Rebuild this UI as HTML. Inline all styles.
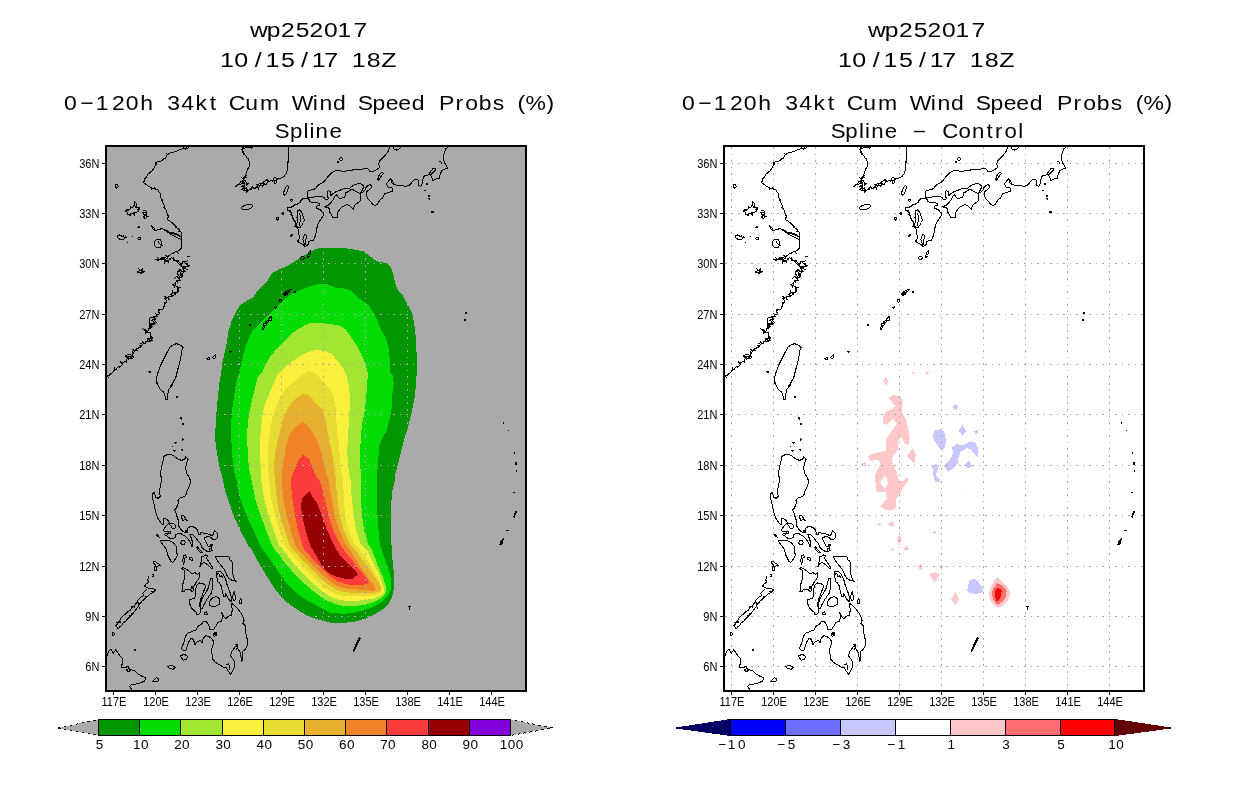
<!DOCTYPE html>
<html lang="en">
<head>
<meta charset="utf-8">
<title>wp252017 0-120h 34kt Cum Wind Speed Probs</title>
<style>
html,body{margin:0;padding:0;background:#fff;}
body{width:1236px;height:800px;overflow:hidden;}
svg{display:block;}
text{font-family:"Liberation Sans",sans-serif;fill:#000;}
</style>
</head>
<body>
<svg width="1236" height="800" viewBox="0 0 1236 800">
<rect x="0" y="0" width="1236" height="800" fill="#ffffff"/>
<clipPath id="cl"><rect x="107" y="147" width="418" height="543"/></clipPath>
<clipPath id="cr"><rect x="725" y="147" width="418" height="543"/></clipPath>
<g clip-path="url(#cl)">
<rect x="106" y="146" width="420" height="545" fill="#aaaaaa"/>
<g shape-rendering="crispEdges">
<polygon fill="#009600" points="221.2,373 222.3,363.3 224.5,353.3 227,341.7 228.7,330 232,320 236.2,311.7 239.5,305.8 245.3,301.7 252.8,297.5 257,291.7 262,286.7 267,281.7 272,273.3 276.2,270.8 283.7,267.5 290.3,264.2 297,260 305.3,255 312,250.8 318.7,248.3 323.7,247.5 332,247.8 345.3,248.3 357,250 364.5,251.7 368.7,255 373.7,259.2 378.7,261.7 387,263.3 391.2,268.3 393.7,275.8 395.3,283.3 397.8,290 402.8,295.8 406.2,301.7 408.7,306.7 412,313.3 414,321.7 415.3,331.7 416.2,343.3 416.7,356.7 416.7,373 416.2,381.7 415,395 412.8,406.7 410.3,418.3 407.8,428.3 404.5,438.3 402,448.3 399.5,458.3 397,468.3 395.3,473.3 395,480 392.5,490 391.5,500 391,515.3 391,530 391.5,545 391.8,550 392.5,560 393.5,570 394,580 393.5,590 392,597 389,603 383,609 375,614 366,618.5 355,621.5 343,623 330,622.5 320,620 310,617 301,612 292,606 283,599 275,589 268,578 262,568 256,558 252,550 248,545 240,530 233.5,515.3 228,500 225,490 223,480 221.2,473.3 218.7,463.3 216.7,451.7 215.3,440 215.3,431.7 216.2,415 217.8,398.3 219.5,381.7"/>
<polygon fill="#00dc00" points="239.5,373 241.2,363.3 243.7,353.3 246.2,345 249.5,336.7 252.8,330 258.7,325 265.3,318.3 272,311.7 278.7,305 285.3,298.3 292,294.2 300.3,290 308.7,286.7 317,284.2 327,284.2 335.3,287.5 343.7,288.3 350.3,290 355.3,295 362,300.8 368.7,305 372.8,311.7 377,320 381.2,330 386.2,338.3 388.3,346.7 389.5,356.7 390.3,373 392.8,375 393.7,383.3 392.3,395 392,406.7 389.5,420 386.2,431.7 382,438.3 379.5,445 378.7,455 377.8,465 377,475 377,480 377,490 377,500 377.5,515.3 378.5,530 380,545 382,550 385,559 388,568 390.5,577 391.5,585 390,592 386,598 380,603 373,607 365,610 355,612.5 343,614 330,612.5 321,608 312,603 303,598 295,592 288,585 281,576 275,567 269,558 263,550 260,545 253.5,530 246.5,515.3 240.5,500 238,490 236.5,480 234.5,473.3 232.8,461.7 231.7,448.3 231.2,435 231.2,421.7 232.3,408.3 234.5,393.3 237,378.3"/>
<polygon fill="#a0e632" points="262,373 265.3,365 270.3,356.7 276.2,349.2 282,343.3 288.7,336.7 295.3,330.8 303.7,325.8 312,322.5 320.3,322.5 328.7,324.2 338.7,325 345.3,329.2 350.3,335.8 355.3,343.3 359.5,350.8 363.7,359.2 366.2,366.7 367.8,373 367.8,375 367,385 366.2,398.3 364.5,411.7 362,425 360.7,438.3 360.3,451.7 360.3,465 361,480 360.5,490 361,500 362,515.3 364,530 368.5,545 372,550 375,558 378,566 382,575 385,583 386.5,590 385,595 380,599 374,602 365,604.7 355,606 345,606.3 337,604.5 329,601.5 321,597 313,591 305,584 298,578 291,570 285,563 280,556 275,550 272,545 266,530 260.5,515.3 255.5,500 253.5,490 251.5,480 249,468.3 247.8,455 247.3,441.7 247.3,430 248.7,416.7 251.2,403.3 254.5,390 257.8,376.7"/>
<polygon fill="#faf03c" points="279.5,373 285.3,366.7 292,361.7 298.7,356.7 307,352.5 315.3,350 323.7,350.8 330.3,353.3 335.3,358.3 340.3,364.2 343.7,369.2 345.3,373 346.2,375 348.7,385 350,398.3 349.5,411.7 348.7,425 347.8,438.3 347.3,451.7 347.8,465 350.5,480 351,490 352,500 353.5,515.3 356,530 361,545 367,550 371,558 375,566 379,574 382,582 384,589 384,593 380,596 374,598.5 365,600 355,601 346,600.8 338,599.5 330,596.5 323,592 315,585 307,578 300,571 294,564 288,556 283,550 279,545 273.5,530 268.5,515.3 264.5,500 262.5,490 261,480 261.2,473.3 260.3,460 260,448.3 260.3,436.7 261.2,425 262.8,413.3 265.3,403.3 269.5,393.3 273.7,383.3 277.8,373.3"/>
<polygon fill="#e6dc32" points="314.5,372.5 320.3,378.3 325.3,384.2 330.3,390 333.7,396.7 335.7,406.7 336.2,418.3 337,430 338.7,441.7 339.5,453.3 340.3,465 342,476.7 343,480 343.5,490 344,500 345,515.3 348.5,530 355,545 360,550 366,558 371,566 375,573 379,580 382,587 382.5,590.5 380,593 374,595 365,596 355,596.5 346,596.3 338,594.7 330,591.5 322,585 314,578 307,571 300,563 294,556 288,550 284.5,545 279.5,530 275,515.3 271.5,500 270,490 269,480 268.7,476.7 267.8,465 267.8,451.7 268.7,440 270.3,428.3 272.8,416.7 276.2,406.7 279.5,398.3 283.7,391.7 288.7,385.8 295.3,380.8 302,375 308.7,371.3"/>
<polygon fill="#e6af2d" points="308.7,395 313.7,400.8 318.7,405.8 322.8,410.8 325.3,418.3 327,428.3 328.7,438.3 331.2,448.3 332.8,458.3 334.5,468.3 336,480 336.5,490 337.5,500 339.5,515.3 343.5,530 350.5,545 355,550 361,558 367,566 372,573 376,579 380,586 381,589.5 379,591.5 373,593 365,593 358,593 351,592.7 343,591.8 335,589 327,583.5 319,577 312,570 305,563 299,556 293,550 289.5,545 284.5,530 280,515.3 277,500 276,490 275,480 274.5,475 274,465 275,453.3 277,443.3 279.5,433.3 282,423.3 284.5,415 287.8,408.3 292,402.5 297,397.5 302.8,394.2"/>
<polygon fill="#f08228" points="307.8,425.8 312,431.7 316.2,438.3 319.5,446.7 322,455 324,465 327,475 329,480 330,490 332,500 334.5,515.3 339,530 346,545 350,550 355,558 360,566 365,573 369,579 373,584 375,588 375,591 371,591 365,589.5 358,589.5 350,589 342,587.8 334,584.5 326,578 318,571 311,564 305,557 298.5,550 295,545 290.5,530 286.5,515.3 283.5,500 282.5,490 282,480 282,475 282.8,465 284.5,455 286.2,445 288.7,436.7 292,430.8 297,425.8 302.8,422.2"/>
<polygon fill="#fa3c3c" points="308.7,458.3 312,466.7 315.3,475 319,480 322.5,490 325,500 328.5,515.3 333,530 340.5,545 344,550 348,555 353,561 358,568 363,574 367,579 369,582.5 363,585 360,585.5 353,585.3 345,584 337,581 330,576.5 323,570 316,563 310,556 304.5,550 302.5,545 298,530 295,515.3 292.5,500 291.5,490 291,480 293.7,471.7 296.2,465 298.7,460 302.8,455"/>
<polygon fill="#960000" points="309.5,491 312,496 317,503 319.5,509 321.5,515.3 327,530 334,545 339,554 344,560 349,565 355,570 358,574.3 352,579.5 344,578.5 337,576.7 331,574.5 326,571 321,564 317,557 313,550 310,545 305.5,530 302,515.3 301,506 302,498.5"/>
</g>
<g stroke="#aaaaaa" stroke-width="1" fill="none" shape-rendering="crispEdges"><g stroke-dasharray="1.7 4.85"><line x1="113.5" y1="147" x2="113.5" y2="690"/><line x1="155.5" y1="147" x2="155.5" y2="690"/><line x1="197.5" y1="147" x2="197.5" y2="690"/><line x1="239.5" y1="147" x2="239.5" y2="690"/><line x1="281.5" y1="147" x2="281.5" y2="690"/><line x1="323.5" y1="147" x2="323.5" y2="690"/><line x1="365.5" y1="147" x2="365.5" y2="690"/><line x1="407.5" y1="147" x2="407.5" y2="690"/><line x1="449.5" y1="147" x2="449.5" y2="690"/><line x1="491.5" y1="147" x2="491.5" y2="690"/></g><g stroke-dasharray="1.7 4.8"><line x1="107" y1="163.5" x2="525" y2="163.5"/><line x1="107" y1="213.5" x2="525" y2="213.5"/><line x1="107" y1="263.5" x2="525" y2="263.5"/><line x1="107" y1="314.5" x2="525" y2="314.5"/><line x1="107" y1="364.5" x2="525" y2="364.5"/><line x1="107" y1="414.5" x2="525" y2="414.5"/><line x1="107" y1="465.5" x2="525" y2="465.5"/><line x1="107" y1="515.5" x2="525" y2="515.5"/><line x1="107" y1="566.5" x2="525" y2="566.5"/><line x1="107" y1="616.5" x2="525" y2="616.5"/><line x1="107" y1="666.5" x2="525" y2="666.5"/></g></g>
<path fill="none" stroke="#000" stroke-width="1" stroke-linejoin="round" shape-rendering="crispEdges" d="M189.7 146.5 L188.2 147.8 L186.5 148.8 L186.3 147.4 L186.5 148.8 L184.8 148.8 L185.3 149.9 L184.8 148.8 L183.2 147.9 L181.7 149.1 L179.8 149.4 L178.4 150.4 L176.9 151.2 L175.2 151.5 L173.6 152.2 L171.8 152.2 L170.2 152.9 L168.7 153.9 L167.3 154.8 L166.8 153.9 L167.3 154.8 L165.9 156.9 L165.1 158.4 L163.6 159.3 L163.7 158.1 L163.6 159.3 L161.8 160.5 L159.8 161.4 L157.1 161.8 L156.4 163.2 L155 162.7 L155 163.4 L156.4 163.2 L155.9 164.5 L157 164.3 L155.9 164.5 L154.7 166.4 L153.8 168.3 L153 169.6 L152.1 170.9 L150.9 171.9 L150 171.7 L149.7 172.6 L150.9 171.9 L149.9 173 L148.5 173.8 L147.3 174.8 L146.8 176.4 L146 177.7 L144.7 178.8 L144.5 180.7 L143.6 182.2 L144.6 183.5 L146.1 184.4 L147.3 185.4 L148.4 186.6 L149.9 187.1 L151.9 188.1 L151.5 189.7 L151.5 189.5 L151.9 188.1 L154.1 188.5 L156 189.5 L155.5 188.2 L154.5 187.9 L156 189.5 L158.3 190.1 L159 192 L160.3 193.5 L160.6 195.2 L160.7 196.9 L161.3 198.5 L162.3 200 L161.2 200.5 L162.3 200 L162.7 201.7 L163.1 203.5 L163.9 205 L164.5 206.7 L165.3 208.3 L163.7 207.8 L163 207.9 L165.3 208.3 L166.2 210.3 L166.9 212.3 L167.4 214.4 L168.5 216.3 L167.8 217.9 L167.8 219.6 L168.8 220.7 L170.3 221.2 L171.8 222.5 L173.3 223.8 L174.8 225.2 L176.2 226.7 L175.8 227.9 L176.2 226.7 L177.4 228.4 L179.2 229.3 L180 231.1 L178.5 231.3 L180 231.1 L181.3 232.6 L181.2 234.2 L181.3 235.9 L181.7 237.5 L181.2 239.1 L181.7 240.7 L181.6 242.4 L181 244 L181.2 246 L181.6 248M181.6 248 L180.1 249.5 L178.6 250.8 L176.9 251.7 L178.6 253.9 L178.5 253.7 L176.9 251.7 L175.1 252 L173.5 253 L171.7 253.5 L170.2 254.9 L168.3 255.9 L167.7 257.3 L165.9 255.6 L166.3 255.2 L167.7 257.3 L167 258.4 L164.6 257.6 L162.9 257.7 L162.9 258.7 L164 258.9 L162.9 257.7 L161.2 257.6 L159.8 259.2 L162.2 260.1 L159.8 259.2 L158 260.2 L156.6 259.5 L155.8 259.6 L158 260.2 L159.4 259.6 L157.7 257.6 L159.4 259.6 L160.7 258.7 L161.3 259.5 L160.7 258.7 L162 258.6 L163.4 257.9 L162 258.6 L163.7 259.8 L164.6 261.5 L164.6 263.9 L164.4 263.3 L164.6 261.5 L166.5 261 L165.4 259.7 L164.4 258.7 L166.5 261 L168.6 260.2 L169 262.6 L168.6 260.2 L170 258.7 L170.4 259.7 L169.9 259.3 L170 258.7 L171.9 257.7 L173.5 259 L173.8 257 L173.5 259 L175.1 260.2 L173.2 260.9 L175.1 260.2 L176.3 261.2 L178.3 260.3 L176.3 261.2 L177.6 262.1 L178.3 263.5 L180 264.7 L180 263.7 L180 264.7 L181.5 266.1 L183.5 266.8 L185.2 266.5 L183.5 266.8 L184.8 268.4 L186.5 269.2 L188.1 270M150.7 224.5 L152.4 226.9 L153.2 229.4 L155.6 230.5 L158.9 229.4 L161.8 228.7 L166.2 230.2 L170.2 232.6 L175.1 234.2 L178.4 235.9 L181.3 236.7M163.7 229.4 L167 231.8 L171.9 235 L176.7 237.5 L181.3 239.4M171.9 232.6 L175.9 233.4 L180 235.9M150.7 224.5 L154 227.7 L154.8 230.2M162 243.5 L161.4 245.8 L160 247.4 L158.1 248 L156.1 247.4 L154.7 245.8 L154.2 243.5 L154.7 241.2 L156.1 239.6 L158.1 238.9 L160 239.6 L161.4 241.2 L162 243.5M158.1 241.5 L159.7 244 L162.1 245.6 L160.5 246.4M118.1 186.3 L117.7 187.6 L116.6 188.1 L115.6 187.6 L115.2 186.3 L115.6 185 L116.6 184.5 L117.7 185 L118.1 186.3M124.7 211.5 L126.3 210.6 L128.2 210.2 L126.8 209.3 L128.2 210.2 L129.7 209.2 L131 207.9 L130.6 207 L130.4 207.5 L131 207.9 L132.4 207.3 L133.6 206.3 L133.1 205.5 L133.6 206.3 L134.3 204.9 L135.1 202.3 L134.6 201.1 L135.1 202.3 L136.3 203.6 L136.4 205.1 L136.3 206.6 L135.2 207.2 L136.3 206.6 L136.4 208 L137.7 207.9 L136.4 208 L137.6 207.3 L138.6 209.4 L137.6 207.3 L139.4 207.4 L139.3 209.1 L138.7 210.8 L138.3 210 L137.7 209 L138.7 210.8 L137.1 211.9 L135.4 212.6 L133.7 212.8 L134.4 214.6 L134.2 215.8 L133.7 212.8 L132.3 213.5 L130.5 214 L129.6 215.1 L130.4 215.8 L130.3 214.7 L129.6 215.1 L127.3 214.7 L127.9 212.3 L127.3 213.4 L127.6 212.5 L127.9 212.3 L126.4 211.8 L124.7 211.5M142.6 211.5 L143.8 210.7 L145 210 L144.9 210.9 L145 210 L145.9 211.1 L147 212.3 L145.5 212.6 L144.8 212.8 L147 212.3 L146.1 213.7 L144.7 214.8 L146.1 215.8 L146 214.1 L146.1 215.8 L147.1 216.4 L148.3 216.3 L147.1 216.4 L146.6 217.5 L145.9 218.4 L143.4 217.7 L144.5 216.7 L143.4 217.2 L143.4 217.7 L144.1 216.3 L144.1 214.7 L145.3 214.9 L144.7 214.6 L144.1 214.7 L143.3 213.1 L142.6 211.5M117.4 235.9 L119.9 234.8 L121.4 236 L123.2 236.4 L123.8 235.5 L122.8 236.4 L123.2 236.4 L124.7 237.3 L125.5 236.8 L124.7 237.3 L126.8 237.4 L124.9 238 L125.1 236.8 L124.9 238 L124 239.3 L121.9 239.3 L119.9 239.4 L117.8 237.9 L117.4 235.9M140.8 238.6 L140.4 239.4 L139.4 239.8 L138.3 239.4 L137.9 238.6 L138.3 237.8 L139.4 237.5 L140.4 237.8 L140.8 238.6M132.2 236.7 L133.5 237.5M127.2 242 L128.3 243M137.4 227.4 L139.7 227.4 L138.6 226.1 L137.4 227.4M186.5 256.2 L189.7 256.2 L188.9 257.3M243.3 146.5 L242.8 148.2 L241.9 149.7 L242.8 151.4 L242.4 152.2 L243.6 152.2 L242.8 151.4 L243.9 153.2 L244.8 154.7 L243.1 154.8 L244.8 154.7 L246.2 156 L246.9 157.9 L248.6 159.2 L249.1 161.1 L249.5 162.9 L249.6 164.4 L249.9 165.9 L248.5 167.3 L247.8 169.4 L247.1 168.5 L247.8 169.4 L247.1 170.9 L246.5 172.5 L245.9 174.6 L246.6 175.6 L245.9 174.6 L244.8 176.5 L246.3 177.9 L247.1 178.1 L244.8 176.5 L244.4 178.3 L242.4 178.7 L244.4 178.3 L243.4 179.9 L243 178.7 L243.2 177.6 L243.4 179.9 L242.1 180.7 L240.9 181.7 L240.1 183.1M240.1 183.1 L239 184.1 L240.7 184.6 L240.8 184.1 L239 184.1 L237.3 185 L236.5 186.8 L235.5 186.2 L237.3 185 L239.4 184.7 L241 184.2 L242.8 182.9 L244.7 184.2 L242.8 182.9 L244.9 182.7 L245 184.1 L244.1 184.8 L244.6 184.3 L245 184.1 L244.2 185.6 L242.4 185.4 L241.9 186.2 L244.2 185.6 L244.6 187.3 L242.6 186.2 L244.6 187.3 L242.8 188.2 L244.6 189.6 L245 189 L242.8 188.2 L241.8 189.4 L244.1 188.6 L246.4 188.3 L246.5 187.3 L246.4 188.3 L246.2 190 L243.4 190.1 L243.9 191.1 L246.2 190 L246.3 192.3 L248 191.2 L247.5 189.8 L248 191.2 L249.1 190.1 L250 189 L251.1 189.8 L251.3 188.9 L250 189 L251.5 188 L251.5 189.8 L251 188.9 L251.5 188 L253 187.6 L252.4 186.4 L253 187.6 L254.7 188.8 L255.6 187.6 L256.4 186.4 L256.1 187.3 L256.4 186.4 L258.8 187.6 L259 189 L258.9 189.3 L258.8 187.6 L259.5 185.9 L258.3 185.6 L257.6 185 L259.5 185.9 L260.5 185 L260.6 186 L260.5 185 L261.7 185.4 L262.9 186.4 L263.9 184.8 L263.4 183.8 L263.9 184.8 L264.5 183.5 L263.8 184.8 L264.5 183.5 L266.1 185 L267 183.1 L267.6 181.3 L269.5 181.5 L267 179.8 L269.5 181.5 L270.9 180.3 L272.6 180.4 L272.8 181.6 L272.6 180.4 L274 180.2 L273.8 179.3 L274 180.2 L275 181.3 L274.9 183.3 L276.7 182.6 L276.8 180.7 L277.5 179M277.5 179 L280.7 178.2 L284 176.6 L286.4 173.3 L287.5 169.2 L288 164.4 L287.2 161.1 L288.8 162.7 L288 157.9 L288 154.6 L288 146.5M241.7 149.7 L245 148.1 L248.2 147.3 L251.5 148.1 L253.1 146.5M240.9 177.4 L244.2 179 L242.5 181.4 L245 180.6 L246.6 183.1 L248.2 183.9 L245.8 185.5M256.3 183.9 L258 185.5 L259.6 183.1 L262 183.9 L263.7 181.4 L266.1 180.6 L267.7 179M273.4 178.2 L275.8 177.4 L276.7 179.8 L274.5 180.6M252.8 205.7 L252.3 207 L250.4 208.4 L247.7 209.5 L244.8 209.9 L242.5 209.5 L241.4 208.5 L241.9 207.2 L243.7 205.8 L246.5 204.7 L249.4 204.3 L251.7 204.7 L252.8 205.7M284 195.2 L283.5 192.8 L284.8 189.6 L286.4 186.3 L288 185.8 L288.4 187.9 L287.2 191.2 L285.9 194.4 L284 195.2M278.9 218.8 L278.5 219.8 L277.5 220.3 L276.4 219.8 L276 218.8 L276.4 217.8 L277.5 217.3 L278.5 217.8 L278.9 218.8M282 213.1 L283.2 212.3 L282.7 214.7M292.4 200.4 L291.9 201.3 L291 201.3 L290.5 200.4 L291 199.6 L291.9 199.6 L292.4 200.4M290.5 235.5 L291.8 234.6 L291.4 236.5 L290.5 235.5M188.1 260 L186.6 261.1 L184.6 261.5 L182.9 261.1 L182.2 261 L184.6 261.5 L185.3 263.4 L187.2 263.1 L188 263.4 L185.3 263.4 L186.7 264.6 L187.6 264.3 L187 264.2 L186.7 264.6 L189.3 265.5 L187.8 266.1 L188.2 266.7 L189.3 265.5 L187.1 266.1 L185.7 267.4 L184.2 267.8 L182.4 267 L182.9 267.6 L184.2 267.8 L182.8 268.9 L183.8 270.3 L185 271.5 L183.2 271.3 L181.6 271.9 L180.4 272.3 L178.5 271.2 L179.4 271.8 L180.4 272.3 L181 273.6 L182.9 272.9 L181 273.6 L182.5 274.6 L182 277.4 L180.7 275.7 L180.1 274.5 L182 277.4 L180.1 277.8 L178.3 277.9 L179.3 279 L180.1 280.4 L178.3 280.6 L176.6 280.9 L177.9 282.9 L176.6 280.9 L175.6 282.8 L176.1 285.1 L175.6 282.8 L174.2 284.1 L172 284 L172.9 285 L174.5 283.9 L172.9 285 L174.5 285.7 L174.9 287.5 L174.5 285.7 L176 286 L177.6 286.8 L178.2 288.4 L180.2 287.3 L179.3 287.4 L178.2 288.4 L178.7 290.2 L177.2 288.7 L178.7 290.2 L177.1 291 L178.6 290.8 L179.1 291.9 L177.1 291 L177.1 293.1 L175.6 292.4 L174.8 293.8 L175.3 294.2 L175.6 292.4 L173.5 292.4 L172.1 290.3 L173.5 292.4 L171.9 293.4 L170.4 294.9 L173.1 295.8 L174.8 293.9 L173.1 295.8 L171.1 296.5 L169.3 296.3 L167.9 297.6 L168.7 299.9 L169.6 299.8 L167.9 297.6 L166.3 297.9 L164.6 296.3 L165.8 297.7 L164.8 298.1 L165.8 297.7 L165.8 299.5 L167 298.2 L165.8 299.5 L166.6 300.6 L165.6 299.8 L166.6 300.6 L166.1 302.5 L164.8 304 L164.1 302.6 L164.8 304 L164.1 305.5 L163.7 307.1 L164.7 306.9 L163.7 307.1 L163.1 309 L161.3 309 L159.7 309.7 L158.5 309.1 L159.7 309.7 L158.4 311.3 L159.1 312 L159.4 312.7 L158.4 311.3 L159 312.3 L159.9 313.8 L158.9 312.8 L159.9 313.8 L157.3 314.5 L155.1 313.7 L157.3 314.5 L155.9 316 L158 317 L155.9 316 L153.9 316.8 L155.5 316.5 L153.9 316.8 L154.9 318 L155.3 319.2 L153.9 319.4 L152.2 320.1 L151.1 320.7 L152.2 320.2 L152.2 320.1 L153.5 321.4 L155 322.6 L152.6 323.2 L152.9 324.4 L155 322.6 L152.8 323.3 L150.6 324.1 L148.8 324 L149.6 323 L150.6 324.1 L151.3 325.5 L149.5 325.3 L149 324.9 L151.3 325.5 L152.5 326.7 L150.6 327.1 L151.7 328 L151.1 327 L150.6 327.1 L149.1 328.2 L150 328.6 L149.1 328.2 L148.3 329.9 L147.6 331.8 L146 330.4 L146.1 332.9 L145.3 333.8 L146 330.4 L144.2 330 L142.4 328.8 L144.2 329.8 L145.9 329 L144.2 329.8 L145.2 331.3 L146.7 332.3 L148.3 332.8 L147.4 331.7 L148.3 332.8 L150.1 332.1 L150.2 334.4 L150.8 336.3 L150.3 337.9 L150.8 336.3 L152.7 338 L150.2 338.5 L147.9 339.4 L149.6 340.6 L150.7 340.1 L147.9 339.4 L149.5 340.5 L149.7 341.5 L149.5 340.5 L150.7 341.2 L148.8 341.3 L146.9 341 L148.1 339.7 L146.9 341 L145.2 341.3 L145.6 343.6 L144.1 343.6 L142.4 341.9 L144.1 343.6 L142.4 344.2 L140.5 343.3 L142.4 344.2 L141.8 345.7 L140.7 345.6 L140 345.8 L141.8 345.7 L140.8 346.7 L139.2 345.4 L140.8 346.7 L139.4 347.7 L136.9 348.5 L138 349.2 L136.9 348.5 L135.7 349.9 L137.7 351 L135.7 349.9 L134.7 350.9 L132.9 349.6 L134.7 350.9 L134 352.4 L132.9 353.4 L132.2 351.9 L132.9 353.4 L132.2 356 L133.7 357.2 L132.2 356 L130.5 357.1 L128.4 356.5 L128 357.7 L128.2 357.1 L128.4 356.5 L126.3 355.7 L126.9 357.2 L127.9 358.3 L126.9 359.3 L126.3 360.7 L126.4 362.1 L126.6 360.9 L126.3 360.7 L124.8 361.7 L123 362.2 L122.7 364.2 L120.8 363 L120.8 361.8 L122.7 364.2 L121.1 365.6 L119.9 367.4 L118.2 366 L119.9 367.4 L118.3 366.5 L117 367.8 L116.5 369.5 L114 370.3 L114.2 367.8 L114 370.3 L113 371.8 L111.8 373 L110.4 373.9 L109.2 375.6 L107.4 375.8 L108.5 377.4 L107.4 375.8 L106.9 377.3M149.9 317.7 L154 316.9 L154.8 320.9 L156.4 322.6 L154 325 L151.6 324.2 L149.9 326.6 L149.1 322.6 L149.9 317.7M177.5 271.4 L180 269.7 L183.2 272.2 L182.4 275.4 L179.2 276.2 L177.5 273.8 L177.5 271.4M173.5 279.5 L176.7 276.2 L179.2 278.7M124.7 356.7 L128 354.2 L131.2 355 L132.1 358.3 L128.8 359.1 L126.4 357.5M147.5 338 L150.7 338.8 L152.4 340.4 L149.1 341.2M164.6 260 L167 261.6 L168.6 260M176.7 260 L179.2 262.4 L181.6 264.1 L183.2 262.4M136.9 272.2 L140.2 270.6 L142.6 268.1 L141.8 271.4 L144.6 271.7 L141.8 272.7 L141 273.8 L139.7 272.2 L136.9 273M138.6 268.4 L141 271M176.7 343.7 L180.8 345.3 L183.2 347.7 L181.6 351 L180.8 357.5 L179.2 364 L177.5 370.5 L175.9 377 L173.5 381.9 L170.2 386.7 L174.3 380 L171.9 385.7 L168.6 389.7 L167.8 393.8 L167.3 399.5 L165.7 399.5 L165 396.2 L163.7 392.2 L159.7 388.9 L158.1 384.9 L156.4 380 L157.2 385.1 L156.4 378.6 L158.1 372.1 L160.5 365.6 L163.7 359.1 L167 352.6 L170.2 346.9 L173.5 344.5 L176.7 343.7M148.3 371.5 L150.4 371.1 L150.1 372.4 L148.3 371.5M262.1 328 L263 326.9 L263.4 325 L263.8 323.5 L265.3 323.1 L266 321.6 L267.1 320.9 L268.3 319.4 L269.4 318.3 L270.9 316.8 L271.9 317.1 L271.6 319 L271.3 320.5 L269.4 320.9 L268.3 321.6 L267.1 322.8 L266.4 324.3 L266 325.4 L264.5 325.8 L264.1 327.6 L263.4 329.1 L262.3 329.1 L262.1 328M265.3 323.1 L266.4 322 L265.9 321.1M268.3 321.6 L269.2 319.8M283.6 293.9 L285.1 292 L287 290.9 L289.3 289.8 L291.5 289.2 L290 290.9 L288.1 292.4 L287 294.6 L285.1 295.4 L283.6 293.9M284.4 293.9 L286.3 292.4 L287.4 292.8 L286.3 294.3 L284.4 293.9M279.5 299.9 L281.4 299.5 L281.8 301.8 L280.3 302.5 L279.5 299.9M274.3 307.8 L275.4 308.4 L276.5 306.6M274.7 307.5 L275.5 307.9 L276.4 306.4M206.8 358.3 L209.2 357.5 L210 359.4 L207.9 360.1 L206.8 358.3M212.5 357.2 L215.7 354.2 L214.9 358.3 L213.3 358.3 L212.5 357.2M229.2 351 L231.2 351 L230.4 352.6 L229.2 351M175.9 396.4 L177.5 396.7 L177.1 398 L175.9 396.4M180.3 417.5 L181.9 417.9 L181.4 419.2 L180.3 417.5M181.9 423.2 L183.6 423.5 L183.1 424.8 L181.9 423.2M181.6 438.7 L183.2 439 L182.7 440.3 L181.6 438.7M174.6 442.4 L176.2 442.7 L175.8 444 L174.6 442.4M173.5 450.3 L175.1 450.7 L174.6 452 L173.5 450.3M181.3 449.2 L182.9 449.5 L182.4 450.8 L181.3 449.2M172.3 445.8 L172.8 447.4M163.7 456.4 L162.9 461.2 L161.3 467.7 L160.5 474.2 L161.8 479.9 L160.5 485.6 L159.2 492.1 L160.5 496.2 L158.1 498.3 L155.6 497 L154.3 492.4 L152.4 493.7 L152.7 499.4 L153.5 501.5 L154.5 506 L155.5 511 L156.5 515 L158 518.5 L159.5 521 L161.5 523.5 L163 525 L163.5 521.5 L163.5 518 L165.5 518.5 L167.5 520 L169.5 522.5 L171.5 524 L173.5 523.5 L175.5 525.5 L176 527.5 L174 529 L172 528 L170.5 525.5 L169 523.5 L167 525 L165 527.5 L163.5 529.5 L164.5 532 L166.5 531.5 L168.5 532 L167.5 534.5 L166 533.5 L164.5 534.5 L167.5 536.5 L170 538.5 L173 539 L175.5 537 L176 534.5 L178.5 533.5 L181 533.5 L183 535 L185.5 536.5 L187.5 538.5 L189.5 541 L191 544 L192 546.5 L193 545.5 L192.5 542 L191.5 539 L190.5 536 L189.8 534 L192 534 L194.5 536.5 L197 539.5 L199.5 542.5 L201 545 L202 547.5 L204 549.5 L206.5 551 L209 551.5 L211 551 L212 548 L211 546.5 L209 547 L207.5 545.5 L206.5 542.5 L205 540 L204 538 L206.5 537 L209 536.5 L211 537.5 L213 539.5 L215.5 539.5 L217.5 537.5 L218 535 L216.5 532.5 L214.5 530.5 L213.5 533 L212.5 536 L210.5 535 L208 534 L205.5 533.5 L203 533 L201 532 L200 534.5 L198.5 535 L198 532 L197 529.5 L195 527.5 L192 526.5 L189.5 527 L187.5 528.5 L186.5 531 L185 532.5 L182.5 531 L180.5 529 L179 526.5 L178.2 523 L178.2 520 L177 516.5 L176 513 L174.5 510 L176.5 508 L177.5 505 L178.5 502.5 L177.8 500 L177.5 501 L180 497.8 L183.2 497 L185.7 495.4 L187.3 490.5 L189.7 485.6 L190.5 480.7 L188.9 476.7 L186.5 473.4 L185.7 467.7 L186.5 462.9 L188.1 459.6 L185.7 456.4 L184.9 458.8 L181.6 460.4 L177.5 458.8 L174.3 456.4 L171 454.4 L167 454.7 L163.7 456.4M181 516 L183 515 L184.5 516.5 L185.5 518.5 L187 520.5 L184.5 519.5 L183 521 L182 518.5 L181 516M180.5 543 L182 540 L184 540.5 L185.5 542.5 L184 545 L182 544.5 L180.5 543M160 541 L163 540.5 L166.5 540.5 L170 541 L173.5 543 L176 546 L177 549 L176.5 552 L177.5 555 L176 558 L174.5 560.5 L172.5 562.5 L171 561.5 L169.5 558.5 L168 555.5 L167 552 L166 549 L164 546 L162 543.5 L160 541M196.5 547.5 L197.5 547 L199.5 549.5 L202 552.5 L201 553 L198.5 550.5 L196.5 547.5M156.2 534.5 L157.5 535 L159.2 537.2 L158 536.8 L156.2 534.5M154 561 L156.5 562.5 L159 564 L160.5 565.5 L158 566 L156 567 L156.5 570 L155 571 L154.5 568 L155.5 565 L153.5 563 L154 561M152 574.5 L153.5 574.5 L153.5 576 L152 576M184 555.5 L185.5 555 L186.5 557 L185 558 L184 560 L184.5 562.5 L183.5 564 L182.8 561 L183.2 558 L184 555.5M189 558 L191.5 557.5 L193 559 L192 560.5 L190 559.5 L189 558M201 557 L203.5 556.5 L205.5 555 L207.5 556 L206.5 558 L208 560.5 L210 563.5 L212 566.5 L212.5 569 L211 568 L208.5 565.5 L206 563.5 L203.5 562.5 L201.5 564 L200 566.5 L200.5 563.5 L201.5 560.5 L201 557M168 531.5 L170 531 L170.5 533 L168.5 533.5 L168 531.5M185 530.5 L187 530 L187.5 532 L185.5 532.5 L185 530.5M210 544.5 L212 544 L212.5 545.5 L210.5 546 L210 544.5M209 549 L211 548.5 L212 550.5 L210 551.5 L209 549M149.1 576 L148.5 577.9 L147.4 579.6 L148.3 581 L148.6 582.5 L147.3 583.1 L146.1 583.9 L145.2 584.9 L145.7 586.2 L145.2 584.9 L144.6 586.1 L146.6 587.6 L149.1 588.5 L150.6 588.7 L152 588.8 L153.7 588.9 L155.5 589.7 L153.9 592 L152.8 591 L151.7 591.9 L153.9 592 L152.5 592.7 L151.3 593.4 L149.7 594.4 L148.4 595.7 L146.8 597 L145.6 596.5 L146.8 597 L145.1 598.3 L143.6 599.8 L142 601.1 L141.1 602.4 L140.2 602.6 L140.4 602.6 L141.1 602.4 L140.1 603.6 L139 604.8 L138.4 603.6 L139 604.6 L139 604.8 L138.5 606.4 L139.3 607.7 L139.7 608.1 L138.5 606.4 L137.3 607.5 L136.7 609 L135.3 610.3 L134.3 611.7 L133.4 613.3 L131.9 614.4 L131.6 613.5 L131.9 614.4 L130.6 615.7 L129.5 615.7 L129.3 616.5 L130.6 615.7 L129.4 617.1 L128.4 617 L128.8 618 L129.4 617.1 L128.2 618.4 L126.7 619.6 L125.7 621.2 L124.3 622.1 L123 623.3 L122.1 624.8 L121.1 625.9 L120 627 L119.1 626 L120 627 L118.8 628 L117.2 629 L117 627.3 L116.1 625.9 L115.2 625.6 L116.1 625.9 L116.7 624.4 L117.7 625 L117.7 624.3 L116.7 624.4 L117.4 623.1 L116.5 622.4 L117.4 623.1 L118.4 621.9 L119.7 622.7 L120.4 621.9 L118.4 621.9 L119.4 620.6 L120.5 619.2 L121.3 617.6 L122.8 616.4 L124.1 615 L125.6 613.8 L126.8 612.5 L128.3 611.6 L129.8 610.7 L131.1 609.2 L132.4 607.8 L131.1 607 L132.3 606.1 L132.4 607.8 L133.5 606.2 L134.6 607.2 L133.5 606.2 L134.8 605.1 L135.8 603.7 L137.1 602.5 L138 602.4 L138.2 602.1 L137.1 602.5 L137.7 600.9 L138.5 599.4 L139.5 598.2 L140.7 597.2 L141.1 598.2 L140.7 597.2 L142.1 596.5 L143.6 595.6 L142.8 593.1 L143.9 592 L145.2 590.8 L146.2 589.7 L147.2 588.5M181.5 568.5 L183.5 567.5 L186 569 L189 571 L192 574 L195 572.5 L197.5 574.5 L199.5 572.5 L199.8 577 L198 580 L196 582.5 L194.5 585.5 L193 587.5 L194 590 L192 592 L190.5 590 L188 589 L185.5 589.5 L183.5 592 L182 591.5 L183 588 L182.5 585 L183.5 582 L184.5 578 L184.8 574 L184.5 570.5 L181.5 568.5M191 586.5 L193 586 L193.2 588.2 L191.5 588.5 L191 586.5M196.5 585.5 L199.5 583 L203 583.5 L205.5 585.5 L205 588.5 L203.5 591.5 L202.5 595 L201 598.5 L200 602 L199.8 606 L200.5 609 L200 613 L198.5 615 L196.5 614.5 L196 612 L194 610.5 L192 608.5 L190.5 606 L189.5 603 L189.5 600 L192 599 L194.5 598 L195.8 595 L195.5 591.5 L196 588.5 L196.5 585.5M211 578 L212.5 579 L212.8 583 L212.5 588 L211.5 593 L209.5 595.5 L207.5 598.5 L205.5 602 L203.5 605.5 L202 609 L200.5 608.5 L200.2 605 L201 601.5 L202.5 598 L204.5 594.5 L206.5 591.5 L208 588.5 L209 585 L209.8 581.5 L211 578M209 603 L210.5 600 L213 597.5 L216.5 596.5 L219 598.5 L220 601.5 L219 604.5 L216 606 L212.5 606.5 L210 605.5 L209 603M204 613 L206.5 611.5 L207.5 614 L205 614.5 L204 613M213.5 635 L216 632.5 L216.5 635 L214.5 636.5 L213.5 635M216 572.5 L218 571 L221 572 L223 574 L224.5 577 L226 580.5 L227 584.5 L228.5 588.5 L230 592.5 L231 596 L232 599.5 L231 601.5 L228.5 599 L227 596 L225.5 594 L226 597 L224 596.5 L222.5 593 L222 589.5 L221 585.5 L219.5 583 L217.5 581.5 L217 578 L216 575 L216 572.5M216.5 574.5 L218.5 573.5 L220 575 L219 577 L221.5 576 L223 577.5M232.5 598 L233.5 593 L234.5 591.5 L235 595 L235.5 599.5 L234 600.5 L232.5 598M239 602.5 L240.5 598.5 L241.8 600.5 L241.5 603.5 L239.5 603.5 L239 602.5M215.5 557 L219 556.5 L222.5 557 L226 556.5 L229 557 L230 560 L232 561.5 L232.5 565 L232 569 L232.5 573 L233.5 577 L235 580 L236.5 581.5 L234 580.5 L231.5 580 L229 578.5 L227 575.5 L225.5 572 L224 569 L221.5 566 L219 563 L217 560 L215.5 557M181.3 648.5 L183.7 642.9 L185.3 636.4 L187.8 633.2 L191.8 631.6 L195.9 629.9 L198.3 625.9 L201.5 624.3 L203.1 621.8 L206.4 621.8 L208.8 625.1 L209.6 629.9 L213.7 629.1 L216.1 625.9 L217.7 622.7 L221.7 621 L222.6 615.4 L221.7 612.9 L223.4 616.2 L225.8 618.6 L228.2 616.2 L231.4 615.4 L232.3 609.7 L231.4 603.2 L233.9 604.9 L237.1 608.1 L240.3 612.1 L242.8 616.2 L244.1 620.2 L242.8 623.5 L245.2 625.9 L245.7 632.4 L246.8 637.2 L247.6 642.1 L246.8 646.9 L244.4 650.2 L242 651.8 L242.5 656.6 L242 661.5 L240.8 656.6 L240.3 652.6 L237.9 648.5 L236.3 645.3 L234.7 647.7 L231.4 651.8 L230.6 655.8 L233.1 659.1 L234.7 663.1 L234.7 667.2 L232.3 671.2 L230.6 674.4 L228.2 671.2 L226.6 668 L223.4 667.2 L219.3 664.7 L215.3 662.3 L212.8 659.1 L212 654.2 L211.2 649.4 L212.8 646.1 L214 642.1 L212 638.8 L208.8 636.4 L205.6 635.6 L203.1 638.8 L202.3 642.9 L200.7 640.5 L197.5 641.3 L195 644.5 L193.4 639.6 L191 638 L188.6 642.1 L187 646.9 L186.1 650.2 L183.7 651 L181.3 648.5M226.6 664.7 L228.2 663.9 L229.8 666.3 L229 669.6M235 644.5 L237.1 644 L237.6 646.9 L236 650.2M213.7 633.2 L216.1 632.4 L215.6 634.8 L213.7 633.2M180.5 655.8 L184.5 654.2 L187.8 656.6 L186.1 659.5 L182.9 660.2 L180.5 655.8M167.2 666.3 L171.6 665.5 L175.6 667.2 L173.2 669.3 L169.2 668.3 L167.2 666.3M152.2 681.7 L156.2 677.7 L158.6 678.5 L158.3 680.9 L155.4 681.7 L152.2 681.7M106.9 656.6 L108.5 651.8 L110.9 649.4 L113.3 653.4 L115.8 649.4 L118.2 653.4 L120.6 656.6 L123 659.1 L122.2 663.9 L121.1 667.2 L124.7 668 L127.9 666.3 L130.3 669.6 L134.4 670.4 L137.6 673.6 L141.6 676.1 L145.4 677.7 L144.9 680.9 L140.8 682.8 L136 684.1 L131.9 684.1 L129.5 686.6 L131.9 689.8M126.3 669.6 L128.7 668.8 L130.3 670.9 L127.6 671.5 L126.3 669.6M133.6 649.4 L135.7 649.4 L135.2 650.5 L133.6 649.4M114.1 634 L113.9 635.2 L113.3 635.8 L112.8 635.2 L112.5 634 L112.8 632.7 L113.3 632.2 L113.9 632.7 L114.1 634M342.3 159 L342 159.9 L341 160.3 L340.1 159.9 L339.7 159 L340.1 158.1 L341 157.7 L342 158.1 L342.3 159M337 161.4 L338.6 161.4 L338.6 162.7 L337 162.7 L337 161.4M292.5 200.4 L292 201.3 L291 201.3 L290.5 200.4 L291 199.6 L292 199.6 L292.5 200.4M279 218.8 L278.6 219.7 L277.7 220.1 L276.8 219.7 L276.4 218.8 L276.8 217.9 L277.7 217.5 L278.6 217.9 L279 218.8M281.7 213.9 L283.4 212.3 L283 215.1M389.8 146.5 L389.3 148.1 L388.2 151.4 L385.7 154.6 L382.5 157.9 L380 160.3 L378.4 164.4 L380 166.8 L378.4 168.4 L376 170.1 L372.7 171.7 L369.5 171.7 L368.7 169.2 L366.2 168.4 L361.4 169.2 L356.5 169.6 L351.6 170.1 L346.7 170.9 L342.7 171.7 L340.2 170.5 L335.4 170.9 L332.1 172.5 L329.7 174.9 L327.2 177.4 L325.5 180 L323.5 182 L321.5 183.5 L319 184.5 L317 186.5 L315.5 188.5 L313.5 189.5 L311 190 L308.5 190 L307.5 192 L307.5 195 L307.5 198 L309.5 197.5 L312 198 L314.5 196.5 L317 196 L320 196 L322.5 196.5 L324.5 198 L325.5 200 L327.5 199.5 L329 198 L327.5 197.5 L327 195 L327.5 192 L328.5 190.5 L330 191.5 L330.5 194 L331 195.5 L333 193.5 L335.5 192 L338 191 L340.5 190 L343 189 L346 188.8 L348.5 189 L350.5 187.5 L352 186.5 L354 185 L357 184 L360 183.5 L362.5 184.5 L363.5 186.5 L363 188.5 L362 190.5 L361 192.5 L363 192 L365 190 L366 187.5 L368 185.5 L370 184.5 L371.5 186 L371 188.5 L369 190 L367 191.5 L366.5 194 L367 197 L368.5 199.5 L370.5 201.5 L372.5 204 L375 206 L377 204.5 L378.5 202.5 L379.5 200.5 L381 199 L382 198.5 L384.9 193.6 L389 192.3 L392.2 191.2 L392.2 187.9 L388.2 187.1 L386.5 183.9 L388.2 181.4 L390.6 179 L392.2 180.6 L393.9 183.9 L397.1 185.5 L402 185.8 L406.8 186.3 L410.1 184.7 L412.5 181.4 L415 179 L417.4 179 L419 181.4 L418.2 185.5 L420.7 186.3 L422.3 183.1 L423.1 178.2 L424.7 175.4 L428.8 174.9 L430.4 171.7 L432.8 168.9 L436.1 168.9 L435.3 170.1 L432.8 172.5 L430.4 174.9 L432 178.2 L432.8 180.6 L436.1 179 L439.3 178.2 L440.2 174.1 L441.8 170.9 L444.2 169.2 L447.5 168.4 L446.7 166 L444.5 162.7 L443.4 157.9 L444.2 153 L445.8 148.9 L448.3 146.8M393 146.5 L393.9 148.9 L396.3 150.1 L399.5 148.9 L401.2 146.8M390.6 179 L392.2 183.1 L395.5 185.5M377.6 179.8 L379.2 174.9 L381.7 172.5 L383.3 173.3 L380.9 176.6 L378.4 180.3 L377.6 179.8M439.3 161.1 L441 161.9 L441.8 164.4M324.5 207 L326.5 206 L328.5 205 L330 203.5 L331.5 202 L333 200 L334 198 L335 196 L336.5 195 L338 197 L339.5 198.5 L342 198 L344.5 197 L346 195 L345.5 192.5 L347.5 192 L350 190.5 L351 189 L353.5 190 L356 191.5 L358.5 192.5 L360 193.5 L360 196.5 L361 199.5 L359.5 201.5 L357.5 203 L355.5 204.5 L354 207 L353.5 209.5 L351.5 207.5 L349.5 205.5 L347 204.5 L344.5 205.5 L342 207 L340 209 L338.5 211.5 L337 214 L337.5 217.5 L335 218 L333 217.5 L331.5 215 L330 212.5 L329.5 209.5 L328.5 207.5 L326.5 207 L324.5 207M307.5 198 L305 198.5 L302.5 198.8 L301 200.5 L300 202.5 L298 203.5 L296.5 205 L294.5 204.5 L293.5 206.5 L291.5 207 L289.5 208 L288 207.5 L287 210 L289 210 L290.5 212 L292 214.5 L292.5 217.5 L293.5 220 L295.5 222 L296 224.5 L294.5 226.5 L296.5 227 L298 229 L298.5 232 L299 235 L299.5 238 L298.5 240 L297.5 241 L299 242.5 L301.5 243.5 L303.5 245 L305 246.5 L307 245.5 L308.5 244 L309 241.5 L311 240.5 L313.5 240 L314.5 238 L315.5 235 L316.5 231 L317 227.5 L318 224 L319.5 221 L321.5 218.5 L323 216 L324 213.5 L322 212 L320.5 210 L318.5 209 L316.5 208 L317 206 L319 205.5 L319.5 203.5 L317 202.5 L314.5 203 L312 202.5 L310 201.5 L309 199.5 L307.5 198M297 211 L299.5 210 L301.5 212 L302.5 214.5 L303.5 217.5 L304.5 220 L303.5 222.5 L302 225 L300.5 227 L298.5 228 L297 226.5 L296 224 L297.5 222.5 L298 220 L297 217.5 L297.5 215 L297 211M299 213 L300.5 216 L300 219 L301 221 L299.5 223 L300 225.5M290 210.5 L291.5 213 L291 214.5 L293 216 L292 218 L294 219M304.5 234.5 L306 235 L306.5 237.5 L305.5 240 L306 243 L305 245 L303.5 242.5 L303 239.5 L303.5 237 L304.5 234.5M290.8 234.8 L292.2 234.5 L292 236 L290.8 236.2 L290.8 234.8M307.5 257 L308.2 254 L309.2 251.5 L310.5 250.5 L310.5 253 L309.5 255.5 L308.5 257.5 L307.5 257M304.3 258 L304 258.8 L303.1 259.3 L301.9 259.3 L301 258.8 L300.7 258 L301 257.2 L301.9 256.7 L303.1 256.7 L304 257.2 L304.3 258M426.2 183.5 L427.2 183.7 L427 184.8 L426.2 183.5M424.2 190 L425.2 190.2 L425 191.3 L424.2 190M428.3 195.4 L429.3 195.6 L429.1 196.7 L428.3 195.4M428.8 198.2 L429.8 198.3 L429.6 199.5 L428.8 198.2M431.2 211 L433.8 211 L433.8 212.3 L431.2 212.3 L431.2 211M465 312.5 L467 312.5M465 313.5 L467 313.5M464 319.5 L466 319.5M464 320.5 L466 320.5M503 422.5 L504 422.5M503 423.5 L504 423.5M508 430.5 L509 430.5M514 452.5 L515 452.5M514 453.5 L515 453.5M515 462.5 L517 462.5M515 463.5 L517 463.5M515 464.5 L517 464.5M516 470.5 L517 470.5M516 471.5 L517 471.5M513 492.5 L515 492.5M513.5 517.5 L514.5 514 L516 511M514.3 517.5 L515.3 514 L516.6 511.5M506 530.5 L509 530.5M499.5 545 L501 541.5 L503.5 538M500.4 545.3 L502 541.8 L504 538.8M501.2 545 L502.6 542.5M408 606.5 L410.5 606.5M408.5 607.5 L410 607.5M409 608.5 L409.8 609.5M353 651.5 L355.5 645.5 L359.8 637M353.9 651.5 L356.4 645.8 L360.6 637.6M294 291.5 L296 291.5M294 292.5 L296 292.5M249 324.5 L251 324.5M249 325.5 L251 325.5"/>
</g>
<g clip-path="url(#cr)">
<g shape-rendering="crispEdges">
<polygon fill="#ffc8c8" points="891.7,395.3 900,395.8 902,400 902.5,413.3 906.7,421.7 908.3,430 909.7,438.3 908.3,445 905,443.3 900.8,436.7 898.3,441.7 897.5,450 892.5,456.7 891.7,461.7 895,468.3 897.5,475 899.2,481.7 903.3,480.8 907.5,477.5 907.5,481.7 902.5,488.3 903.3,488.3 900,493.3 895.8,499.2 895.8,507.5 892.5,510.3 885.8,509.7 880,506.7 886.7,498.3 885.8,492.5 876.7,491.7 875.8,486.7 875,475 878.3,468.3 880.8,464.2 878.3,460 870,460.8 867.5,456.7 871.7,454.2 878.3,452.5 885.8,450.8 885.8,440 890,433.3 895,426.7 896.7,423.3 892.5,419.2 886.7,425 883.3,423.3 883.3,416.7 885.8,411.7 891.7,409.2 895.8,406.7 891.7,401.7 889.2,398.3"/>
<polygon fill="#ffffff" points="880,482.5 885,475 888.3,482.5 885,489.2"/>
<polygon fill="#ffc8c8" points="883.3,381.3 885.8,377.2 888.7,381.3 885.8,385.8"/>
<polygon fill="#ffc8c8" points="911.7,372 915,372 913.3,373.8"/>
<polygon fill="#ffc8c8" points="925,372 929.2,372 927.5,375"/>
<polygon fill="#ffc8c8" points="906.3,456.3 913.3,448.3 915.8,455 914.2,463.3"/>
<polygon fill="#ffc8c8" points="860.3,465 864.7,462 866.7,465.3 864.7,466.7"/>
<polygon fill="#c8c8ff" points="934.2,430.8 940,429.2 944.2,431.7 945.8,440 945.3,446.7 942.5,450.8 938.3,446.7 934.2,440 933,435.8"/>
<polygon fill="#c8c8ff" points="958.3,430.8 962.5,425.3 966.2,430.8 962.5,435.8"/>
<polygon fill="#c8c8ff" points="974.2,431.7 976.3,430 978.3,432.2 976.3,434.7"/>
<polygon fill="#c8c8ff" points="952,407 955.3,403.8 958,407 955.3,410"/>
<polygon fill="#c8c8ff" points="951.7,447.5 956.7,444.2 963.3,445 970,441.3 975,442.5 977.5,446.7 977.5,457.5 975,455 970.8,449.2 966.7,448.3 960.8,451.7 958.3,458.3 957.5,464.2 953.3,468.3 948.3,471.7 943.3,465.8 947.5,462.5 951.7,456.7 953,451.7"/>
<polygon fill="#c8c8ff" points="964.2,465.3 969.2,460.8 971.7,465.3 969.2,468.7"/>
<polygon fill="#c8c8ff" points="931.2,465 936.7,464.2 939.2,465.8 936.7,471.7 935.8,475.8 940,480 940,482 935,481.7 933.3,475 933,470"/>
<polygon fill="#c8c8ff" points="961.7,490 963.3,490 963.3,491.3 961.7,491.3"/>
<polygon fill="#ffc8c8" points="876.7,524.5 879.2,522.5 881.7,524.5 879.2,525.8"/>
<polygon fill="#ffc8c8" points="888,524.5 892.5,520.8 894.2,525 892.5,526.7"/>
<polygon fill="#ffc8c8" points="897,539.7 899.2,535 901.7,539.7 899.5,544.7"/>
<polygon fill="#ffc8c8" points="890.8,549.3 892.5,547.5 894.2,549.3 892.5,551"/>
<polygon fill="#ffc8c8" points="903,549.2 906.7,545.8 909.2,549.2 906.3,550.8"/>
<polygon fill="#ffc8c8" points="918.3,566.7 920.5,563.7 922.5,566.7 920.8,570.8"/>
<polygon fill="#ffc8c8" points="940,566.7 941.7,563.7 943,566.7 941.7,570.8"/>
<polygon fill="#ffc8c8" points="929.2,574.2 935,572 940,574.2 937.5,578.3 934.5,582 931.7,578.3"/>
<polygon fill="#ffc8c8" points="951.3,599.2 955.3,592 959.2,599.2 955.3,605.8"/>
<polygon fill="#ffc8c8" points="997.5,577 1001.7,580.8 1006.7,585.8 1010,592.5 1009.2,598.3 1005,604.2 998.3,608 993.3,604.2 989.7,599.2 989.2,593.3 990.8,586.7 994.2,580.8"/>
<polygon fill="#ff6e6e" points="997.5,583.3 1002.5,585.8 1006.7,590.8 1005.8,596.7 1002.5,601.7 997.5,605 993.3,600 991.7,594.2 993,588.3"/>
<polygon fill="#ff0000" points="997.5,587.5 1001.7,590 1001.3,595 999.2,600 996.7,601.7 995,596.7 995,590.8"/>
<polygon fill="#c8c8ff" points="933,532.5 934.5,531 936,532.5 934.5,534"/>
<polygon fill="#c8c8ff" points="970,579.7 975.8,579.2 979.2,583.3 983,588.3 982.5,592.5 976.7,593.7 969.2,593.3 967.2,590.8 968.3,585"/>
<polygon fill="#ffc8c8" points="898,322.5 899.5,320.5 901,322.5 899.5,324.5"/>
</g>
<g stroke="#aaaaaa" stroke-width="1" fill="none" shape-rendering="crispEdges"><g stroke-dasharray="1.7 4.85"><line x1="731.5" y1="147" x2="731.5" y2="690"/><line x1="773.5" y1="147" x2="773.5" y2="690"/><line x1="815.5" y1="147" x2="815.5" y2="690"/><line x1="857.5" y1="147" x2="857.5" y2="690"/><line x1="899.5" y1="147" x2="899.5" y2="690"/><line x1="941.5" y1="147" x2="941.5" y2="690"/><line x1="983.5" y1="147" x2="983.5" y2="690"/><line x1="1025.5" y1="147" x2="1025.5" y2="690"/><line x1="1067.5" y1="147" x2="1067.5" y2="690"/><line x1="1109.5" y1="147" x2="1109.5" y2="690"/></g><g stroke-dasharray="1.7 4.8"><line x1="725" y1="163.5" x2="1143" y2="163.5"/><line x1="725" y1="213.5" x2="1143" y2="213.5"/><line x1="725" y1="263.5" x2="1143" y2="263.5"/><line x1="725" y1="314.5" x2="1143" y2="314.5"/><line x1="725" y1="364.5" x2="1143" y2="364.5"/><line x1="725" y1="414.5" x2="1143" y2="414.5"/><line x1="725" y1="465.5" x2="1143" y2="465.5"/><line x1="725" y1="515.5" x2="1143" y2="515.5"/><line x1="725" y1="566.5" x2="1143" y2="566.5"/><line x1="725" y1="616.5" x2="1143" y2="616.5"/><line x1="725" y1="666.5" x2="1143" y2="666.5"/></g></g>
<path fill="none" stroke="#000" stroke-width="1" stroke-linejoin="round" shape-rendering="crispEdges" d="M807.7 146.5 L806.2 147.8 L804.5 148.8 L804.3 147.4 L804.5 148.8 L802.8 148.8 L803.3 149.9 L802.8 148.8 L801.2 147.9 L799.7 149.1 L797.8 149.4 L796.4 150.4 L794.9 151.2 L793.2 151.5 L791.6 152.2 L789.8 152.2 L788.2 152.9 L786.7 153.9 L785.3 154.8 L784.8 153.9 L785.3 154.8 L783.9 156.9 L783.1 158.4 L781.6 159.3 L781.7 158.1 L781.6 159.3 L779.8 160.5 L777.8 161.4 L775.1 161.8 L774.4 163.2 L773 162.7 L773 163.4 L774.4 163.2 L773.9 164.5 L775 164.3 L773.9 164.5 L772.7 166.4 L771.8 168.3 L771 169.6 L770.1 170.9 L768.9 171.9 L768 171.7 L767.7 172.6 L768.9 171.9 L767.9 173 L766.5 173.8 L765.3 174.8 L764.8 176.4 L764 177.7 L762.7 178.8 L762.5 180.7 L761.6 182.2 L762.6 183.5 L764.1 184.4 L765.3 185.4 L766.4 186.6 L767.9 187.1 L769.9 188.1 L769.5 189.7 L769.5 189.5 L769.9 188.1 L772.1 188.5 L774 189.5 L773.5 188.2 L772.5 187.9 L774 189.5 L776.3 190.1 L777 192 L778.3 193.5 L778.6 195.2 L778.7 196.9 L779.3 198.5 L780.3 200 L779.2 200.5 L780.3 200 L780.7 201.7 L781.1 203.5 L781.9 205 L782.5 206.7 L783.3 208.3 L781.7 207.8 L781 207.9 L783.3 208.3 L784.2 210.3 L784.9 212.3 L785.4 214.4 L786.5 216.3 L785.8 217.9 L785.8 219.6 L786.8 220.7 L788.3 221.2 L789.8 222.5 L791.3 223.8 L792.8 225.2 L794.2 226.7 L793.8 227.9 L794.2 226.7 L795.4 228.4 L797.2 229.3 L798 231.1 L796.5 231.3 L798 231.1 L799.3 232.6 L799.2 234.2 L799.3 235.9 L799.7 237.5 L799.2 239.1 L799.7 240.7 L799.6 242.4 L799 244 L799.2 246 L799.6 248M799.6 248 L798.1 249.5 L796.6 250.8 L794.9 251.7 L796.6 253.9 L796.5 253.7 L794.9 251.7 L793.1 252 L791.5 253 L789.7 253.5 L788.2 254.9 L786.3 255.9 L785.7 257.3 L783.9 255.6 L784.3 255.2 L785.7 257.3 L785 258.4 L782.6 257.6 L780.9 257.7 L780.9 258.7 L782 258.9 L780.9 257.7 L779.2 257.6 L777.8 259.2 L780.2 260.1 L777.8 259.2 L776 260.2 L774.6 259.5 L773.8 259.6 L776 260.2 L777.4 259.6 L775.7 257.6 L777.4 259.6 L778.7 258.7 L779.3 259.5 L778.7 258.7 L780 258.6 L781.4 257.9 L780 258.6 L781.7 259.8 L782.6 261.5 L782.6 263.9 L782.4 263.3 L782.6 261.5 L784.5 261 L783.4 259.7 L782.4 258.7 L784.5 261 L786.6 260.2 L787 262.6 L786.6 260.2 L788 258.7 L788.4 259.7 L787.9 259.3 L788 258.7 L789.9 257.7 L791.5 259 L791.8 257 L791.5 259 L793.1 260.2 L791.2 260.9 L793.1 260.2 L794.3 261.2 L796.3 260.3 L794.3 261.2 L795.6 262.1 L796.3 263.5 L798 264.7 L798 263.7 L798 264.7 L799.5 266.1 L801.5 266.8 L803.2 266.5 L801.5 266.8 L802.8 268.4 L804.5 269.2 L806.1 270M768.7 224.5 L770.4 226.9 L771.2 229.4 L773.6 230.5 L776.9 229.4 L779.8 228.7 L784.2 230.2 L788.2 232.6 L793.1 234.2 L796.4 235.9 L799.3 236.7M781.7 229.4 L785 231.8 L789.9 235 L794.7 237.5 L799.3 239.4M789.9 232.6 L793.9 233.4 L798 235.9M768.7 224.5 L772 227.7 L772.8 230.2M780 243.5 L779.4 245.8 L778 247.4 L776.1 248 L774.1 247.4 L772.7 245.8 L772.2 243.5 L772.7 241.2 L774.1 239.6 L776.1 238.9 L778 239.6 L779.4 241.2 L780 243.5M776.1 241.5 L777.7 244 L780.1 245.6 L778.5 246.4M736.1 186.3 L735.7 187.6 L734.6 188.1 L733.6 187.6 L733.2 186.3 L733.6 185 L734.6 184.5 L735.7 185 L736.1 186.3M742.7 211.5 L744.3 210.6 L746.2 210.2 L744.8 209.3 L746.2 210.2 L747.7 209.2 L749 207.9 L748.6 207 L748.4 207.5 L749 207.9 L750.4 207.3 L751.6 206.3 L751.1 205.5 L751.6 206.3 L752.3 204.9 L753.1 202.3 L752.6 201.1 L753.1 202.3 L754.3 203.6 L754.4 205.1 L754.3 206.6 L753.2 207.2 L754.3 206.6 L754.4 208 L755.7 207.9 L754.4 208 L755.6 207.3 L756.6 209.4 L755.6 207.3 L757.4 207.4 L757.3 209.1 L756.7 210.8 L756.3 210 L755.7 209 L756.7 210.8 L755.1 211.9 L753.4 212.6 L751.7 212.8 L752.4 214.6 L752.2 215.8 L751.7 212.8 L750.3 213.5 L748.5 214 L747.6 215.1 L748.4 215.8 L748.3 214.7 L747.6 215.1 L745.3 214.7 L745.9 212.3 L745.3 213.4 L745.6 212.5 L745.9 212.3 L744.4 211.8 L742.7 211.5M760.6 211.5 L761.8 210.7 L763 210 L762.9 210.9 L763 210 L763.9 211.1 L765 212.3 L763.5 212.6 L762.8 212.8 L765 212.3 L764.1 213.7 L762.7 214.8 L764.1 215.8 L764 214.1 L764.1 215.8 L765.1 216.4 L766.3 216.3 L765.1 216.4 L764.6 217.5 L763.9 218.4 L761.4 217.7 L762.5 216.7 L761.4 217.2 L761.4 217.7 L762.1 216.3 L762.1 214.7 L763.3 214.9 L762.7 214.6 L762.1 214.7 L761.3 213.1 L760.6 211.5M735.4 235.9 L737.9 234.8 L739.4 236 L741.2 236.4 L741.8 235.5 L740.8 236.4 L741.2 236.4 L742.7 237.3 L743.5 236.8 L742.7 237.3 L744.8 237.4 L742.9 238 L743.1 236.8 L742.9 238 L742 239.3 L739.9 239.3 L737.9 239.4 L735.8 237.9 L735.4 235.9M758.8 238.6 L758.4 239.4 L757.4 239.8 L756.3 239.4 L755.9 238.6 L756.3 237.8 L757.4 237.5 L758.4 237.8 L758.8 238.6M750.2 236.7 L751.5 237.5M745.2 242 L746.3 243M755.4 227.4 L757.7 227.4 L756.6 226.1 L755.4 227.4M804.5 256.2 L807.7 256.2 L806.9 257.3M861.3 146.5 L860.8 148.2 L859.9 149.7 L860.8 151.4 L860.4 152.2 L861.6 152.2 L860.8 151.4 L861.9 153.2 L862.8 154.7 L861.1 154.8 L862.8 154.7 L864.2 156 L864.9 157.9 L866.6 159.2 L867.1 161.1 L867.5 162.9 L867.6 164.4 L867.9 165.9 L866.5 167.3 L865.8 169.4 L865.1 168.5 L865.8 169.4 L865.1 170.9 L864.5 172.5 L863.9 174.6 L864.6 175.6 L863.9 174.6 L862.8 176.5 L864.3 177.9 L865.1 178.1 L862.8 176.5 L862.4 178.3 L860.4 178.7 L862.4 178.3 L861.4 179.9 L861 178.7 L861.2 177.6 L861.4 179.9 L860.1 180.7 L858.9 181.7 L858.1 183.1M858.1 183.1 L857 184.1 L858.7 184.6 L858.8 184.1 L857 184.1 L855.3 185 L854.5 186.8 L853.5 186.2 L855.3 185 L857.4 184.7 L859 184.2 L860.8 182.9 L862.7 184.2 L860.8 182.9 L862.9 182.7 L863 184.1 L862.1 184.8 L862.6 184.3 L863 184.1 L862.2 185.6 L860.4 185.4 L859.9 186.2 L862.2 185.6 L862.6 187.3 L860.6 186.2 L862.6 187.3 L860.8 188.2 L862.6 189.6 L863 189 L860.8 188.2 L859.8 189.4 L862.1 188.6 L864.4 188.3 L864.5 187.3 L864.4 188.3 L864.2 190 L861.4 190.1 L861.9 191.1 L864.2 190 L864.3 192.3 L866 191.2 L865.5 189.8 L866 191.2 L867.1 190.1 L868 189 L869.1 189.8 L869.3 188.9 L868 189 L869.5 188 L869.5 189.8 L869 188.9 L869.5 188 L871 187.6 L870.4 186.4 L871 187.6 L872.7 188.8 L873.6 187.6 L874.4 186.4 L874.1 187.3 L874.4 186.4 L876.8 187.6 L877 189 L876.9 189.3 L876.8 187.6 L877.5 185.9 L876.3 185.6 L875.6 185 L877.5 185.9 L878.5 185 L878.6 186 L878.5 185 L879.7 185.4 L880.9 186.4 L881.9 184.8 L881.4 183.8 L881.9 184.8 L882.5 183.5 L881.8 184.8 L882.5 183.5 L884.1 185 L885 183.1 L885.6 181.3 L887.5 181.5 L885 179.8 L887.5 181.5 L888.9 180.3 L890.6 180.4 L890.8 181.6 L890.6 180.4 L892 180.2 L891.8 179.3 L892 180.2 L893 181.3 L892.9 183.3 L894.7 182.6 L894.8 180.7 L895.5 179M895.5 179 L898.7 178.2 L902 176.6 L904.4 173.3 L905.5 169.2 L906 164.4 L905.2 161.1 L906.8 162.7 L906 157.9 L906 154.6 L906 146.5M859.7 149.7 L863 148.1 L866.2 147.3 L869.5 148.1 L871.1 146.5M858.9 177.4 L862.2 179 L860.5 181.4 L863 180.6 L864.6 183.1 L866.2 183.9 L863.8 185.5M874.3 183.9 L876 185.5 L877.6 183.1 L880 183.9 L881.7 181.4 L884.1 180.6 L885.7 179M891.4 178.2 L893.8 177.4 L894.7 179.8 L892.5 180.6M870.8 205.7 L870.3 207 L868.4 208.4 L865.7 209.5 L862.8 209.9 L860.5 209.5 L859.4 208.5 L859.9 207.2 L861.7 205.8 L864.5 204.7 L867.4 204.3 L869.7 204.7 L870.8 205.7M902 195.2 L901.5 192.8 L902.8 189.6 L904.4 186.3 L906 185.8 L906.4 187.9 L905.2 191.2 L903.9 194.4 L902 195.2M896.9 218.8 L896.5 219.8 L895.5 220.3 L894.4 219.8 L894 218.8 L894.4 217.8 L895.5 217.3 L896.5 217.8 L896.9 218.8M900 213.1 L901.2 212.3 L900.7 214.7M910.4 200.4 L909.9 201.3 L909 201.3 L908.5 200.4 L909 199.6 L909.9 199.6 L910.4 200.4M908.5 235.5 L909.8 234.6 L909.4 236.5 L908.5 235.5M806.1 260 L804.6 261.1 L802.6 261.5 L800.9 261.1 L800.2 261 L802.6 261.5 L803.3 263.4 L805.2 263.1 L806 263.4 L803.3 263.4 L804.7 264.6 L805.6 264.3 L805 264.2 L804.7 264.6 L807.3 265.5 L805.8 266.1 L806.2 266.7 L807.3 265.5 L805.1 266.1 L803.7 267.4 L802.2 267.8 L800.4 267 L800.9 267.6 L802.2 267.8 L800.8 268.9 L801.8 270.3 L803 271.5 L801.2 271.3 L799.6 271.9 L798.4 272.3 L796.5 271.2 L797.4 271.8 L798.4 272.3 L799 273.6 L800.9 272.9 L799 273.6 L800.5 274.6 L800 277.4 L798.7 275.7 L798.1 274.5 L800 277.4 L798.1 277.8 L796.3 277.9 L797.3 279 L798.1 280.4 L796.3 280.6 L794.6 280.9 L795.9 282.9 L794.6 280.9 L793.6 282.8 L794.1 285.1 L793.6 282.8 L792.2 284.1 L790 284 L790.9 285 L792.5 283.9 L790.9 285 L792.5 285.7 L792.9 287.5 L792.5 285.7 L794 286 L795.6 286.8 L796.2 288.4 L798.2 287.3 L797.3 287.4 L796.2 288.4 L796.7 290.2 L795.2 288.7 L796.7 290.2 L795.1 291 L796.6 290.8 L797.1 291.9 L795.1 291 L795.1 293.1 L793.6 292.4 L792.8 293.8 L793.3 294.2 L793.6 292.4 L791.5 292.4 L790.1 290.3 L791.5 292.4 L789.9 293.4 L788.4 294.9 L791.1 295.8 L792.8 293.9 L791.1 295.8 L789.1 296.5 L787.3 296.3 L785.9 297.6 L786.7 299.9 L787.6 299.8 L785.9 297.6 L784.3 297.9 L782.6 296.3 L783.8 297.7 L782.8 298.1 L783.8 297.7 L783.8 299.5 L785 298.2 L783.8 299.5 L784.6 300.6 L783.6 299.8 L784.6 300.6 L784.1 302.5 L782.8 304 L782.1 302.6 L782.8 304 L782.1 305.5 L781.7 307.1 L782.7 306.9 L781.7 307.1 L781.1 309 L779.3 309 L777.7 309.7 L776.5 309.1 L777.7 309.7 L776.4 311.3 L777.1 312 L777.4 312.7 L776.4 311.3 L777 312.3 L777.9 313.8 L776.9 312.8 L777.9 313.8 L775.3 314.5 L773.1 313.7 L775.3 314.5 L773.9 316 L776 317 L773.9 316 L771.9 316.8 L773.5 316.5 L771.9 316.8 L772.9 318 L773.3 319.2 L771.9 319.4 L770.2 320.1 L769.1 320.7 L770.2 320.2 L770.2 320.1 L771.5 321.4 L773 322.6 L770.6 323.2 L770.9 324.4 L773 322.6 L770.8 323.3 L768.6 324.1 L766.8 324 L767.6 323 L768.6 324.1 L769.3 325.5 L767.5 325.3 L767 324.9 L769.3 325.5 L770.5 326.7 L768.6 327.1 L769.7 328 L769.1 327 L768.6 327.1 L767.1 328.2 L768 328.6 L767.1 328.2 L766.3 329.9 L765.6 331.8 L764 330.4 L764.1 332.9 L763.3 333.8 L764 330.4 L762.2 330 L760.4 328.8 L762.2 329.8 L763.9 329 L762.2 329.8 L763.2 331.3 L764.7 332.3 L766.3 332.8 L765.4 331.7 L766.3 332.8 L768.1 332.1 L768.2 334.4 L768.8 336.3 L768.3 337.9 L768.8 336.3 L770.7 338 L768.2 338.5 L765.9 339.4 L767.6 340.6 L768.7 340.1 L765.9 339.4 L767.5 340.5 L767.7 341.5 L767.5 340.5 L768.7 341.2 L766.8 341.3 L764.9 341 L766.1 339.7 L764.9 341 L763.2 341.3 L763.6 343.6 L762.1 343.6 L760.4 341.9 L762.1 343.6 L760.4 344.2 L758.5 343.3 L760.4 344.2 L759.8 345.7 L758.7 345.6 L758 345.8 L759.8 345.7 L758.8 346.7 L757.2 345.4 L758.8 346.7 L757.4 347.7 L754.9 348.5 L756 349.2 L754.9 348.5 L753.7 349.9 L755.7 351 L753.7 349.9 L752.7 350.9 L750.9 349.6 L752.7 350.9 L752 352.4 L750.9 353.4 L750.2 351.9 L750.9 353.4 L750.2 356 L751.7 357.2 L750.2 356 L748.5 357.1 L746.4 356.5 L746 357.7 L746.2 357.1 L746.4 356.5 L744.3 355.7 L744.9 357.2 L745.9 358.3 L744.9 359.3 L744.3 360.7 L744.4 362.1 L744.6 360.9 L744.3 360.7 L742.8 361.7 L741 362.2 L740.7 364.2 L738.8 363 L738.8 361.8 L740.7 364.2 L739.1 365.6 L737.9 367.4 L736.2 366 L737.9 367.4 L736.3 366.5 L735 367.8 L734.5 369.5 L732 370.3 L732.2 367.8 L732 370.3 L731 371.8 L729.8 373 L728.4 373.9 L727.2 375.6 L725.4 375.8 L726.5 377.4 L725.4 375.8 L724.9 377.3M767.9 317.7 L772 316.9 L772.8 320.9 L774.4 322.6 L772 325 L769.6 324.2 L767.9 326.6 L767.1 322.6 L767.9 317.7M795.5 271.4 L798 269.7 L801.2 272.2 L800.4 275.4 L797.2 276.2 L795.5 273.8 L795.5 271.4M791.5 279.5 L794.7 276.2 L797.2 278.7M742.7 356.7 L746 354.2 L749.2 355 L750.1 358.3 L746.8 359.1 L744.4 357.5M765.5 338 L768.7 338.8 L770.4 340.4 L767.1 341.2M782.6 260 L785 261.6 L786.6 260M794.7 260 L797.2 262.4 L799.6 264.1 L801.2 262.4M754.9 272.2 L758.2 270.6 L760.6 268.1 L759.8 271.4 L762.6 271.7 L759.8 272.7 L759 273.8 L757.7 272.2 L754.9 273M756.6 268.4 L759 271M794.7 343.7 L798.8 345.3 L801.2 347.7 L799.6 351 L798.8 357.5 L797.2 364 L795.5 370.5 L793.9 377 L791.5 381.9 L788.2 386.7 L792.3 380 L789.9 385.7 L786.6 389.7 L785.8 393.8 L785.3 399.5 L783.7 399.5 L783 396.2 L781.7 392.2 L777.7 388.9 L776.1 384.9 L774.4 380 L775.2 385.1 L774.4 378.6 L776.1 372.1 L778.5 365.6 L781.7 359.1 L785 352.6 L788.2 346.9 L791.5 344.5 L794.7 343.7M766.3 371.5 L768.4 371.1 L768.1 372.4 L766.3 371.5M880.1 328 L881 326.9 L881.4 325 L881.8 323.5 L883.3 323.1 L884 321.6 L885.1 320.9 L886.3 319.4 L887.4 318.3 L888.9 316.8 L889.9 317.1 L889.6 319 L889.3 320.5 L887.4 320.9 L886.3 321.6 L885.1 322.8 L884.4 324.3 L884 325.4 L882.5 325.8 L882.1 327.6 L881.4 329.1 L880.3 329.1 L880.1 328M883.3 323.1 L884.4 322 L883.9 321.1M886.3 321.6 L887.2 319.8M901.6 293.9 L903.1 292 L905 290.9 L907.3 289.8 L909.5 289.2 L908 290.9 L906.1 292.4 L905 294.6 L903.1 295.4 L901.6 293.9M902.4 293.9 L904.3 292.4 L905.4 292.8 L904.3 294.3 L902.4 293.9M897.5 299.9 L899.4 299.5 L899.8 301.8 L898.3 302.5 L897.5 299.9M892.3 307.8 L893.4 308.4 L894.5 306.6M892.7 307.5 L893.5 307.9 L894.4 306.4M824.8 358.3 L827.2 357.5 L828 359.4 L825.9 360.1 L824.8 358.3M830.5 357.2 L833.7 354.2 L832.9 358.3 L831.3 358.3 L830.5 357.2M847.2 351 L849.2 351 L848.4 352.6 L847.2 351M793.9 396.4 L795.5 396.7 L795.1 398 L793.9 396.4M798.3 417.5 L799.9 417.9 L799.4 419.2 L798.3 417.5M799.9 423.2 L801.6 423.5 L801.1 424.8 L799.9 423.2M799.6 438.7 L801.2 439 L800.7 440.3 L799.6 438.7M792.6 442.4 L794.2 442.7 L793.8 444 L792.6 442.4M791.5 450.3 L793.1 450.7 L792.6 452 L791.5 450.3M799.3 449.2 L800.9 449.5 L800.4 450.8 L799.3 449.2M790.3 445.8 L790.8 447.4M781.7 456.4 L780.9 461.2 L779.3 467.7 L778.5 474.2 L779.8 479.9 L778.5 485.6 L777.2 492.1 L778.5 496.2 L776.1 498.3 L773.6 497 L772.3 492.4 L770.4 493.7 L770.7 499.4 L771.5 501.5 L772.5 506 L773.5 511 L774.5 515 L776 518.5 L777.5 521 L779.5 523.5 L781 525 L781.5 521.5 L781.5 518 L783.5 518.5 L785.5 520 L787.5 522.5 L789.5 524 L791.5 523.5 L793.5 525.5 L794 527.5 L792 529 L790 528 L788.5 525.5 L787 523.5 L785 525 L783 527.5 L781.5 529.5 L782.5 532 L784.5 531.5 L786.5 532 L785.5 534.5 L784 533.5 L782.5 534.5 L785.5 536.5 L788 538.5 L791 539 L793.5 537 L794 534.5 L796.5 533.5 L799 533.5 L801 535 L803.5 536.5 L805.5 538.5 L807.5 541 L809 544 L810 546.5 L811 545.5 L810.5 542 L809.5 539 L808.5 536 L807.8 534 L810 534 L812.5 536.5 L815 539.5 L817.5 542.5 L819 545 L820 547.5 L822 549.5 L824.5 551 L827 551.5 L829 551 L830 548 L829 546.5 L827 547 L825.5 545.5 L824.5 542.5 L823 540 L822 538 L824.5 537 L827 536.5 L829 537.5 L831 539.5 L833.5 539.5 L835.5 537.5 L836 535 L834.5 532.5 L832.5 530.5 L831.5 533 L830.5 536 L828.5 535 L826 534 L823.5 533.5 L821 533 L819 532 L818 534.5 L816.5 535 L816 532 L815 529.5 L813 527.5 L810 526.5 L807.5 527 L805.5 528.5 L804.5 531 L803 532.5 L800.5 531 L798.5 529 L797 526.5 L796.2 523 L796.2 520 L795 516.5 L794 513 L792.5 510 L794.5 508 L795.5 505 L796.5 502.5 L795.8 500 L795.5 501 L798 497.8 L801.2 497 L803.7 495.4 L805.3 490.5 L807.7 485.6 L808.5 480.7 L806.9 476.7 L804.5 473.4 L803.7 467.7 L804.5 462.9 L806.1 459.6 L803.7 456.4 L802.9 458.8 L799.6 460.4 L795.5 458.8 L792.3 456.4 L789 454.4 L785 454.7 L781.7 456.4M799 516 L801 515 L802.5 516.5 L803.5 518.5 L805 520.5 L802.5 519.5 L801 521 L800 518.5 L799 516M798.5 543 L800 540 L802 540.5 L803.5 542.5 L802 545 L800 544.5 L798.5 543M778 541 L781 540.5 L784.5 540.5 L788 541 L791.5 543 L794 546 L795 549 L794.5 552 L795.5 555 L794 558 L792.5 560.5 L790.5 562.5 L789 561.5 L787.5 558.5 L786 555.5 L785 552 L784 549 L782 546 L780 543.5 L778 541M814.5 547.5 L815.5 547 L817.5 549.5 L820 552.5 L819 553 L816.5 550.5 L814.5 547.5M774.2 534.5 L775.5 535 L777.2 537.2 L776 536.8 L774.2 534.5M772 561 L774.5 562.5 L777 564 L778.5 565.5 L776 566 L774 567 L774.5 570 L773 571 L772.5 568 L773.5 565 L771.5 563 L772 561M770 574.5 L771.5 574.5 L771.5 576 L770 576M802 555.5 L803.5 555 L804.5 557 L803 558 L802 560 L802.5 562.5 L801.5 564 L800.8 561 L801.2 558 L802 555.5M807 558 L809.5 557.5 L811 559 L810 560.5 L808 559.5 L807 558M819 557 L821.5 556.5 L823.5 555 L825.5 556 L824.5 558 L826 560.5 L828 563.5 L830 566.5 L830.5 569 L829 568 L826.5 565.5 L824 563.5 L821.5 562.5 L819.5 564 L818 566.5 L818.5 563.5 L819.5 560.5 L819 557M786 531.5 L788 531 L788.5 533 L786.5 533.5 L786 531.5M803 530.5 L805 530 L805.5 532 L803.5 532.5 L803 530.5M828 544.5 L830 544 L830.5 545.5 L828.5 546 L828 544.5M827 549 L829 548.5 L830 550.5 L828 551.5 L827 549M767.1 576 L766.5 577.9 L765.4 579.6 L766.3 581 L766.6 582.5 L765.3 583.1 L764.1 583.9 L763.2 584.9 L763.7 586.2 L763.2 584.9 L762.6 586.1 L764.6 587.6 L767.1 588.5 L768.6 588.7 L770 588.8 L771.7 588.9 L773.5 589.7 L771.9 592 L770.8 591 L769.7 591.9 L771.9 592 L770.5 592.7 L769.3 593.4 L767.7 594.4 L766.4 595.7 L764.8 597 L763.6 596.5 L764.8 597 L763.1 598.3 L761.6 599.8 L760 601.1 L759.1 602.4 L758.2 602.6 L758.4 602.6 L759.1 602.4 L758.1 603.6 L757 604.8 L756.4 603.6 L757 604.6 L757 604.8 L756.5 606.4 L757.3 607.7 L757.7 608.1 L756.5 606.4 L755.3 607.5 L754.7 609 L753.3 610.3 L752.3 611.7 L751.4 613.3 L749.9 614.4 L749.6 613.5 L749.9 614.4 L748.6 615.7 L747.5 615.7 L747.3 616.5 L748.6 615.7 L747.4 617.1 L746.4 617 L746.8 618 L747.4 617.1 L746.2 618.4 L744.7 619.6 L743.7 621.2 L742.3 622.1 L741 623.3 L740.1 624.8 L739.1 625.9 L738 627 L737.1 626 L738 627 L736.8 628 L735.2 629 L735 627.3 L734.1 625.9 L733.2 625.6 L734.1 625.9 L734.7 624.4 L735.7 625 L735.7 624.3 L734.7 624.4 L735.4 623.1 L734.5 622.4 L735.4 623.1 L736.4 621.9 L737.7 622.7 L738.4 621.9 L736.4 621.9 L737.4 620.6 L738.5 619.2 L739.3 617.6 L740.8 616.4 L742.1 615 L743.6 613.8 L744.8 612.5 L746.3 611.6 L747.8 610.7 L749.1 609.2 L750.4 607.8 L749.1 607 L750.3 606.1 L750.4 607.8 L751.5 606.2 L752.6 607.2 L751.5 606.2 L752.8 605.1 L753.8 603.7 L755.1 602.5 L756 602.4 L756.2 602.1 L755.1 602.5 L755.7 600.9 L756.5 599.4 L757.5 598.2 L758.7 597.2 L759.1 598.2 L758.7 597.2 L760.1 596.5 L761.6 595.6 L760.8 593.1 L761.9 592 L763.2 590.8 L764.2 589.7 L765.2 588.5M799.5 568.5 L801.5 567.5 L804 569 L807 571 L810 574 L813 572.5 L815.5 574.5 L817.5 572.5 L817.8 577 L816 580 L814 582.5 L812.5 585.5 L811 587.5 L812 590 L810 592 L808.5 590 L806 589 L803.5 589.5 L801.5 592 L800 591.5 L801 588 L800.5 585 L801.5 582 L802.5 578 L802.8 574 L802.5 570.5 L799.5 568.5M809 586.5 L811 586 L811.2 588.2 L809.5 588.5 L809 586.5M814.5 585.5 L817.5 583 L821 583.5 L823.5 585.5 L823 588.5 L821.5 591.5 L820.5 595 L819 598.5 L818 602 L817.8 606 L818.5 609 L818 613 L816.5 615 L814.5 614.5 L814 612 L812 610.5 L810 608.5 L808.5 606 L807.5 603 L807.5 600 L810 599 L812.5 598 L813.8 595 L813.5 591.5 L814 588.5 L814.5 585.5M829 578 L830.5 579 L830.8 583 L830.5 588 L829.5 593 L827.5 595.5 L825.5 598.5 L823.5 602 L821.5 605.5 L820 609 L818.5 608.5 L818.2 605 L819 601.5 L820.5 598 L822.5 594.5 L824.5 591.5 L826 588.5 L827 585 L827.8 581.5 L829 578M827 603 L828.5 600 L831 597.5 L834.5 596.5 L837 598.5 L838 601.5 L837 604.5 L834 606 L830.5 606.5 L828 605.5 L827 603M822 613 L824.5 611.5 L825.5 614 L823 614.5 L822 613M831.5 635 L834 632.5 L834.5 635 L832.5 636.5 L831.5 635M834 572.5 L836 571 L839 572 L841 574 L842.5 577 L844 580.5 L845 584.5 L846.5 588.5 L848 592.5 L849 596 L850 599.5 L849 601.5 L846.5 599 L845 596 L843.5 594 L844 597 L842 596.5 L840.5 593 L840 589.5 L839 585.5 L837.5 583 L835.5 581.5 L835 578 L834 575 L834 572.5M834.5 574.5 L836.5 573.5 L838 575 L837 577 L839.5 576 L841 577.5M850.5 598 L851.5 593 L852.5 591.5 L853 595 L853.5 599.5 L852 600.5 L850.5 598M857 602.5 L858.5 598.5 L859.8 600.5 L859.5 603.5 L857.5 603.5 L857 602.5M833.5 557 L837 556.5 L840.5 557 L844 556.5 L847 557 L848 560 L850 561.5 L850.5 565 L850 569 L850.5 573 L851.5 577 L853 580 L854.5 581.5 L852 580.5 L849.5 580 L847 578.5 L845 575.5 L843.5 572 L842 569 L839.5 566 L837 563 L835 560 L833.5 557M799.3 648.5 L801.7 642.9 L803.3 636.4 L805.8 633.2 L809.8 631.6 L813.9 629.9 L816.3 625.9 L819.5 624.3 L821.1 621.8 L824.4 621.8 L826.8 625.1 L827.6 629.9 L831.7 629.1 L834.1 625.9 L835.7 622.7 L839.7 621 L840.6 615.4 L839.7 612.9 L841.4 616.2 L843.8 618.6 L846.2 616.2 L849.4 615.4 L850.3 609.7 L849.4 603.2 L851.9 604.9 L855.1 608.1 L858.3 612.1 L860.8 616.2 L862.1 620.2 L860.8 623.5 L863.2 625.9 L863.7 632.4 L864.8 637.2 L865.6 642.1 L864.8 646.9 L862.4 650.2 L860 651.8 L860.5 656.6 L860 661.5 L858.8 656.6 L858.3 652.6 L855.9 648.5 L854.3 645.3 L852.7 647.7 L849.4 651.8 L848.6 655.8 L851.1 659.1 L852.7 663.1 L852.7 667.2 L850.3 671.2 L848.6 674.4 L846.2 671.2 L844.6 668 L841.4 667.2 L837.3 664.7 L833.3 662.3 L830.8 659.1 L830 654.2 L829.2 649.4 L830.8 646.1 L832 642.1 L830 638.8 L826.8 636.4 L823.6 635.6 L821.1 638.8 L820.3 642.9 L818.7 640.5 L815.5 641.3 L813 644.5 L811.4 639.6 L809 638 L806.6 642.1 L805 646.9 L804.1 650.2 L801.7 651 L799.3 648.5M844.6 664.7 L846.2 663.9 L847.8 666.3 L847 669.6M853 644.5 L855.1 644 L855.6 646.9 L854 650.2M831.7 633.2 L834.1 632.4 L833.6 634.8 L831.7 633.2M798.5 655.8 L802.5 654.2 L805.8 656.6 L804.1 659.5 L800.9 660.2 L798.5 655.8M785.2 666.3 L789.6 665.5 L793.6 667.2 L791.2 669.3 L787.2 668.3 L785.2 666.3M770.2 681.7 L774.2 677.7 L776.6 678.5 L776.3 680.9 L773.4 681.7 L770.2 681.7M724.9 656.6 L726.5 651.8 L728.9 649.4 L731.3 653.4 L733.8 649.4 L736.2 653.4 L738.6 656.6 L741 659.1 L740.2 663.9 L739.1 667.2 L742.7 668 L745.9 666.3 L748.3 669.6 L752.4 670.4 L755.6 673.6 L759.6 676.1 L763.4 677.7 L762.9 680.9 L758.8 682.8 L754 684.1 L749.9 684.1 L747.5 686.6 L749.9 689.8M744.3 669.6 L746.7 668.8 L748.3 670.9 L745.6 671.5 L744.3 669.6M751.6 649.4 L753.7 649.4 L753.2 650.5 L751.6 649.4M732.1 634 L731.9 635.2 L731.3 635.8 L730.8 635.2 L730.5 634 L730.8 632.7 L731.3 632.2 L731.9 632.7 L732.1 634M960.3 159 L960 159.9 L959 160.3 L958.1 159.9 L957.7 159 L958.1 158.1 L959 157.7 L960 158.1 L960.3 159M955 161.4 L956.6 161.4 L956.6 162.7 L955 162.7 L955 161.4M910.5 200.4 L910 201.3 L909 201.3 L908.5 200.4 L909 199.6 L910 199.6 L910.5 200.4M897 218.8 L896.6 219.7 L895.7 220.1 L894.8 219.7 L894.4 218.8 L894.8 217.9 L895.7 217.5 L896.6 217.9 L897 218.8M899.7 213.9 L901.4 212.3 L901 215.1M1007.8 146.5 L1007.3 148.1 L1006.2 151.4 L1003.7 154.6 L1000.5 157.9 L998 160.3 L996.4 164.4 L998 166.8 L996.4 168.4 L994 170.1 L990.7 171.7 L987.5 171.7 L986.7 169.2 L984.2 168.4 L979.4 169.2 L974.5 169.6 L969.6 170.1 L964.7 170.9 L960.7 171.7 L958.2 170.5 L953.4 170.9 L950.1 172.5 L947.7 174.9 L945.2 177.4 L943.5 180 L941.5 182 L939.5 183.5 L937 184.5 L935 186.5 L933.5 188.5 L931.5 189.5 L929 190 L926.5 190 L925.5 192 L925.5 195 L925.5 198 L927.5 197.5 L930 198 L932.5 196.5 L935 196 L938 196 L940.5 196.5 L942.5 198 L943.5 200 L945.5 199.5 L947 198 L945.5 197.5 L945 195 L945.5 192 L946.5 190.5 L948 191.5 L948.5 194 L949 195.5 L951 193.5 L953.5 192 L956 191 L958.5 190 L961 189 L964 188.8 L966.5 189 L968.5 187.5 L970 186.5 L972 185 L975 184 L978 183.5 L980.5 184.5 L981.5 186.5 L981 188.5 L980 190.5 L979 192.5 L981 192 L983 190 L984 187.5 L986 185.5 L988 184.5 L989.5 186 L989 188.5 L987 190 L985 191.5 L984.5 194 L985 197 L986.5 199.5 L988.5 201.5 L990.5 204 L993 206 L995 204.5 L996.5 202.5 L997.5 200.5 L999 199 L1000 198.5 L1002.9 193.6 L1007 192.3 L1010.2 191.2 L1010.2 187.9 L1006.2 187.1 L1004.5 183.9 L1006.2 181.4 L1008.6 179 L1010.2 180.6 L1011.9 183.9 L1015.1 185.5 L1020 185.8 L1024.8 186.3 L1028.1 184.7 L1030.5 181.4 L1033 179 L1035.4 179 L1037 181.4 L1036.2 185.5 L1038.7 186.3 L1040.3 183.1 L1041.1 178.2 L1042.7 175.4 L1046.8 174.9 L1048.4 171.7 L1050.8 168.9 L1054.1 168.9 L1053.3 170.1 L1050.8 172.5 L1048.4 174.9 L1050 178.2 L1050.8 180.6 L1054.1 179 L1057.3 178.2 L1058.2 174.1 L1059.8 170.9 L1062.2 169.2 L1065.5 168.4 L1064.7 166 L1062.5 162.7 L1061.4 157.9 L1062.2 153 L1063.8 148.9 L1066.3 146.8M1011 146.5 L1011.9 148.9 L1014.3 150.1 L1017.5 148.9 L1019.2 146.8M1008.6 179 L1010.2 183.1 L1013.5 185.5M995.6 179.8 L997.2 174.9 L999.7 172.5 L1001.3 173.3 L998.9 176.6 L996.4 180.3 L995.6 179.8M1057.3 161.1 L1059 161.9 L1059.8 164.4M942.5 207 L944.5 206 L946.5 205 L948 203.5 L949.5 202 L951 200 L952 198 L953 196 L954.5 195 L956 197 L957.5 198.5 L960 198 L962.5 197 L964 195 L963.5 192.5 L965.5 192 L968 190.5 L969 189 L971.5 190 L974 191.5 L976.5 192.5 L978 193.5 L978 196.5 L979 199.5 L977.5 201.5 L975.5 203 L973.5 204.5 L972 207 L971.5 209.5 L969.5 207.5 L967.5 205.5 L965 204.5 L962.5 205.5 L960 207 L958 209 L956.5 211.5 L955 214 L955.5 217.5 L953 218 L951 217.5 L949.5 215 L948 212.5 L947.5 209.5 L946.5 207.5 L944.5 207 L942.5 207M925.5 198 L923 198.5 L920.5 198.8 L919 200.5 L918 202.5 L916 203.5 L914.5 205 L912.5 204.5 L911.5 206.5 L909.5 207 L907.5 208 L906 207.5 L905 210 L907 210 L908.5 212 L910 214.5 L910.5 217.5 L911.5 220 L913.5 222 L914 224.5 L912.5 226.5 L914.5 227 L916 229 L916.5 232 L917 235 L917.5 238 L916.5 240 L915.5 241 L917 242.5 L919.5 243.5 L921.5 245 L923 246.5 L925 245.5 L926.5 244 L927 241.5 L929 240.5 L931.5 240 L932.5 238 L933.5 235 L934.5 231 L935 227.5 L936 224 L937.5 221 L939.5 218.5 L941 216 L942 213.5 L940 212 L938.5 210 L936.5 209 L934.5 208 L935 206 L937 205.5 L937.5 203.5 L935 202.5 L932.5 203 L930 202.5 L928 201.5 L927 199.5 L925.5 198M915 211 L917.5 210 L919.5 212 L920.5 214.5 L921.5 217.5 L922.5 220 L921.5 222.5 L920 225 L918.5 227 L916.5 228 L915 226.5 L914 224 L915.5 222.5 L916 220 L915 217.5 L915.5 215 L915 211M917 213 L918.5 216 L918 219 L919 221 L917.5 223 L918 225.5M908 210.5 L909.5 213 L909 214.5 L911 216 L910 218 L912 219M922.5 234.5 L924 235 L924.5 237.5 L923.5 240 L924 243 L923 245 L921.5 242.5 L921 239.5 L921.5 237 L922.5 234.5M908.8 234.8 L910.2 234.5 L910 236 L908.8 236.2 L908.8 234.8M925.5 257 L926.2 254 L927.2 251.5 L928.5 250.5 L928.5 253 L927.5 255.5 L926.5 257.5 L925.5 257M922.3 258 L922 258.8 L921.1 259.3 L919.9 259.3 L919 258.8 L918.7 258 L919 257.2 L919.9 256.7 L921.1 256.7 L922 257.2 L922.3 258M1044.2 183.5 L1045.2 183.7 L1045 184.8 L1044.2 183.5M1042.2 190 L1043.2 190.2 L1043 191.3 L1042.2 190M1046.3 195.4 L1047.3 195.6 L1047.1 196.7 L1046.3 195.4M1046.8 198.2 L1047.8 198.3 L1047.6 199.5 L1046.8 198.2M1049.2 211 L1051.8 211 L1051.8 212.3 L1049.2 212.3 L1049.2 211M1083 312.5 L1085 312.5M1083 313.5 L1085 313.5M1082 319.5 L1084 319.5M1082 320.5 L1084 320.5M1121 422.5 L1122 422.5M1121 423.5 L1122 423.5M1126 430.5 L1127 430.5M1132 452.5 L1133 452.5M1132 453.5 L1133 453.5M1133 462.5 L1135 462.5M1133 463.5 L1135 463.5M1133 464.5 L1135 464.5M1134 470.5 L1135 470.5M1134 471.5 L1135 471.5M1131 492.5 L1133 492.5M1131.5 517.5 L1132.5 514 L1134 511M1132.3 517.5 L1133.3 514 L1134.6 511.5M1124 530.5 L1127 530.5M1117.5 545 L1119 541.5 L1121.5 538M1118.4 545.3 L1120 541.8 L1122 538.8M1119.2 545 L1120.6 542.5M1026 606.5 L1028.5 606.5M1026.5 607.5 L1028 607.5M1027 608.5 L1027.8 609.5M971 651.5 L973.5 645.5 L977.8 637M971.9 651.5 L974.4 645.8 L978.6 637.6M912 291.5 L914 291.5M912 292.5 L914 292.5M867 324.5 L869 324.5M867 325.5 L869 325.5"/>
</g>
<rect x="106" y="146" width="420" height="545" fill="none" stroke="#000" stroke-width="2" shape-rendering="crispEdges"/>
<path d="M102 163.5 H105M102 213.5 H105M102 263.5 H105M102 314.5 H105M102 364.5 H105M102 414.5 H105M102 465.5 H105M102 515.5 H105M102 566.5 H105M102 616.5 H105M102 666.5 H105M113.5 692 V695M155.5 692 V695M197.5 692 V695M239.5 692 V695M281.5 692 V695M323.5 692 V695M365.5 692 V695M407.5 692 V695M449.5 692 V695M491.5 692 V695" stroke="#000" stroke-width="1" fill="none" shape-rendering="crispEdges"/>
<g font-size="12.5" text-anchor="end"><text transform="translate(99.4 167.8) scale(0.88 1)">36N</text><text transform="translate(99.4 217.8) scale(0.88 1)">33N</text><text transform="translate(99.4 267.8) scale(0.88 1)">30N</text><text transform="translate(99.4 318.8) scale(0.88 1)">27N</text><text transform="translate(99.4 368.8) scale(0.88 1)">24N</text><text transform="translate(99.4 418.8) scale(0.88 1)">21N</text><text transform="translate(99.4 469.8) scale(0.88 1)">18N</text><text transform="translate(99.4 519.8) scale(0.88 1)">15N</text><text transform="translate(99.4 570.8) scale(0.88 1)">12N</text><text transform="translate(99.4 620.8) scale(0.88 1)">9N</text><text transform="translate(99.4 670.8) scale(0.88 1)">6N</text></g>
<g font-size="12.5" text-anchor="middle"><text transform="translate(114 705.8) scale(0.88 1)">117E</text><text transform="translate(156 705.8) scale(0.88 1)">120E</text><text transform="translate(198 705.8) scale(0.88 1)">123E</text><text transform="translate(240 705.8) scale(0.88 1)">126E</text><text transform="translate(282 705.8) scale(0.88 1)">129E</text><text transform="translate(324 705.8) scale(0.88 1)">132E</text><text transform="translate(366 705.8) scale(0.88 1)">135E</text><text transform="translate(408 705.8) scale(0.88 1)">138E</text><text transform="translate(450 705.8) scale(0.88 1)">141E</text><text transform="translate(492 705.8) scale(0.88 1)">144E</text></g>
<rect x="724" y="146" width="420" height="545" fill="none" stroke="#000" stroke-width="2" shape-rendering="crispEdges"/>
<path d="M720 163.5 H723M720 213.5 H723M720 263.5 H723M720 314.5 H723M720 364.5 H723M720 414.5 H723M720 465.5 H723M720 515.5 H723M720 566.5 H723M720 616.5 H723M720 666.5 H723M731.5 692 V695M773.5 692 V695M815.5 692 V695M857.5 692 V695M899.5 692 V695M941.5 692 V695M983.5 692 V695M1025.5 692 V695M1067.5 692 V695M1109.5 692 V695" stroke="#000" stroke-width="1" fill="none" shape-rendering="crispEdges"/>
<g font-size="12.5" text-anchor="end"><text transform="translate(717.4 167.8) scale(0.88 1)">36N</text><text transform="translate(717.4 217.8) scale(0.88 1)">33N</text><text transform="translate(717.4 267.8) scale(0.88 1)">30N</text><text transform="translate(717.4 318.8) scale(0.88 1)">27N</text><text transform="translate(717.4 368.8) scale(0.88 1)">24N</text><text transform="translate(717.4 418.8) scale(0.88 1)">21N</text><text transform="translate(717.4 469.8) scale(0.88 1)">18N</text><text transform="translate(717.4 519.8) scale(0.88 1)">15N</text><text transform="translate(717.4 570.8) scale(0.88 1)">12N</text><text transform="translate(717.4 620.8) scale(0.88 1)">9N</text><text transform="translate(717.4 670.8) scale(0.88 1)">6N</text></g>
<g font-size="12.5" text-anchor="middle"><text transform="translate(732 705.8) scale(0.88 1)">117E</text><text transform="translate(774 705.8) scale(0.88 1)">120E</text><text transform="translate(816 705.8) scale(0.88 1)">123E</text><text transform="translate(858 705.8) scale(0.88 1)">126E</text><text transform="translate(900 705.8) scale(0.88 1)">129E</text><text transform="translate(942 705.8) scale(0.88 1)">132E</text><text transform="translate(984 705.8) scale(0.88 1)">135E</text><text transform="translate(1026 705.8) scale(0.88 1)">138E</text><text transform="translate(1068 705.8) scale(0.88 1)">141E</text><text transform="translate(1110 705.8) scale(0.88 1)">144E</text></g>
<text transform="translate(0 37.3) scale(1.2 1)" font-size="20.5" x="208.34 222.24 234.22 246.4 257.97 269.97 281.21 294.62" y="0">wp252017</text>
<text transform="translate(0 66.5) scale(1.22 1)" font-size="20.5" x="180.41 192.09 208.87 217.7 230.3 246.82 255.57 265.85 277.25 288.36 300.69 312.42" y="0">10/15/17 18Z</text>
<text transform="translate(0 109.7) scale(1.12 1)" font-size="20.5" x="57.16 71.6 85.42 99.92 112.25 125.24 136.64 149.36 161.78 174.62 187.25 192.95 204.16 219.05 232.17 249.25 260.4 279.25 285.18 297.39 308.79 319.42 332.64 344.41 355.57 367.74 379.15 392.06 406.79 415.46 427.46 439.87 450.12 462.17 469.28 487.88" y="0">0−120h 34kt Cum Wind Speed Probs (%)</text>
<text transform="translate(0 37.3) scale(1.2 1)" font-size="20.5" x="723.34 737.24 749.22 761.4 772.97 784.97 796.21 809.62" y="0">wp252017</text>
<text transform="translate(0 66.5) scale(1.22 1)" font-size="20.5" x="686.96 698.64 715.43 724.26 736.86 753.38 762.13 772.4 783.81 794.92 807.25 818.98" y="0">10/15/17 18Z</text>
<text transform="translate(0 109.7) scale(1.12 1)" font-size="20.5" x="608.94 623.38 637.2 651.71 664.03 677.02 688.42 701.15 713.56 726.4 739.04 744.73 755.95 770.83 783.96 801.03 812.19 831.03 836.96 849.17 860.57 871.2 884.43 896.19 907.36 919.53 930.93 943.85 958.58 967.25 979.25 991.66 1001.91 1013.96 1021.06 1039.66" y="0">0−120h 34kt Cum Wind Speed Probs (%)</text>
<text transform="translate(0 138.3) scale(1.14 1)" font-size="19.5" x="241.13 254.45 266.25 271.44 276.76 289.07" y="0">Spline</text>
<text transform="translate(0 138.3) scale(1.14 1)" font-size="19.5" x="728.68 741.55 753.44 758.8 764.3 776.18 787.02 800.97 812.36 826.52 840.72 852.72 865.29 872.76 881.24 893.18" y="0">Spline − Control</text>
<g shape-rendering="crispEdges"><polygon points="58,728 98.5,719.5 98.5,735.5" fill="#aaaaaa" stroke="#000" stroke-width="1" stroke-dasharray="2.5 3.5"/><polygon points="552.5,728 510.5,719.5 510.5,735.5" fill="#aaaaaa" stroke="#000" stroke-width="1" stroke-dasharray="2.5 3.5"/><rect x="98.5" y="719.5" width="41" height="16" fill="#009600" stroke="#000" stroke-width="1"/><rect x="139.5" y="719.5" width="41" height="16" fill="#00dc00" stroke="#000" stroke-width="1"/><rect x="180.5" y="719.5" width="42" height="16" fill="#a0e632" stroke="#000" stroke-width="1"/><rect x="222.5" y="719.5" width="41" height="16" fill="#faf03c" stroke="#000" stroke-width="1"/><rect x="263.5" y="719.5" width="41" height="16" fill="#e6dc32" stroke="#000" stroke-width="1"/><rect x="304.5" y="719.5" width="41" height="16" fill="#e6af2d" stroke="#000" stroke-width="1"/><rect x="345.5" y="719.5" width="41" height="16" fill="#f08228" stroke="#000" stroke-width="1"/><rect x="386.5" y="719.5" width="42" height="16" fill="#fa3c3c" stroke="#000" stroke-width="1"/><rect x="428.5" y="719.5" width="41" height="16" fill="#960000" stroke="#000" stroke-width="1"/><rect x="469.5" y="719.5" width="41" height="16" fill="#8200dc" stroke="#000" stroke-width="1"/></g>
<g font-size="13.5" text-anchor="middle" letter-spacing="0.4"><text x="99.7" y="748.9">5</text><text x="140.9" y="748.9">10</text><text x="182.1" y="748.9">20</text><text x="223.3" y="748.9">30</text><text x="264.5" y="748.9">40</text><text x="305.7" y="748.9">50</text><text x="346.9" y="748.9">60</text><text x="388.1" y="748.9">70</text><text x="429.3" y="748.9">80</text><text x="470.5" y="748.9">90</text><text x="511.7" y="748.9">100</text></g>
<g shape-rendering="crispEdges"><polygon points="676,728 730.5,719.5 730.5,735.5" fill="#000064" stroke="#000064" stroke-width="1"/><polygon points="1171,728 1115,719.5 1115,735.5" fill="#640000" stroke="#640000" stroke-width="1"/><rect x="730.5" y="719.5" width="55" height="16" fill="#0000ff" stroke="#000" stroke-width="1"/><rect x="785.5" y="719.5" width="55" height="16" fill="#6e6eff" stroke="#000" stroke-width="1"/><rect x="840.5" y="719.5" width="55" height="16" fill="#c8c8ff" stroke="#000" stroke-width="1"/><rect x="895.5" y="719.5" width="55" height="16" fill="#ffffff" stroke="#000" stroke-width="1"/><rect x="950.5" y="719.5" width="55" height="16" fill="#ffc8c8" stroke="#000" stroke-width="1"/><rect x="1005.5" y="719.5" width="55" height="16" fill="#ff6e6e" stroke="#000" stroke-width="1"/><rect x="1060.5" y="719.5" width="54" height="16" fill="#ff0000" stroke="#000" stroke-width="1"/></g>
<g><text transform="translate(0 748.9) scale(1 1)" font-size="13.5" x="718.55 727.72 737.95" y="0">−10</text>
<text transform="translate(0 748.9) scale(1 1)" font-size="13.5" x="777.55 787.76" y="0">−5</text>
<text transform="translate(0 748.9) scale(1 1)" font-size="13.5" x="832.48 842.72" y="0">−3</text>
<text transform="translate(0 748.9) scale(1 1)" font-size="13.5" x="887.41 897.68" y="0">−1</text>
</g>
<g font-size="13.5" text-anchor="middle" letter-spacing="0.4"><text x="951.4" y="748.9">1</text><text x="1006.3" y="748.9">3</text><text x="1061.3" y="748.9">5</text><text x="1116.2" y="748.9">10</text></g>
</svg>
</body>
</html>
